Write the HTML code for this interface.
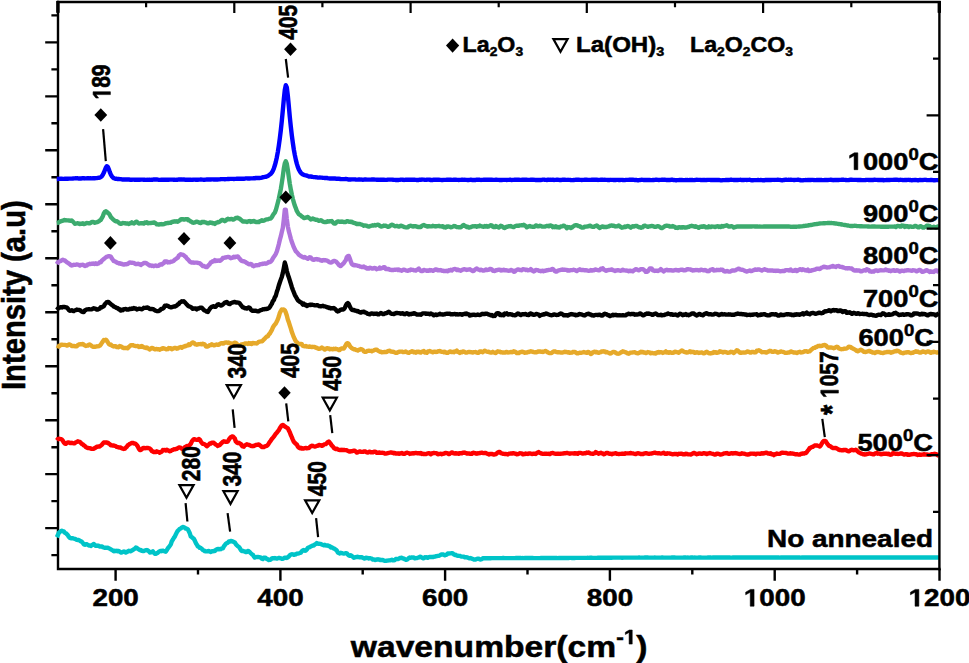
<!DOCTYPE html><html><head><meta charset="utf-8"><style>html,body{margin:0;padding:0;background:#fff;}svg{display:block;}text{font-family:"Liberation Sans",sans-serif;font-weight:bold;fill:#000;stroke:#000;stroke-width:0.5px;}</style></head><body>
<svg width="969" height="663" viewBox="0 0 969 663">
<rect width="969" height="663" fill="#fff"/>
<g stroke="#000" stroke-width="2.4" fill="none">
<path d="M58.0 2.0 V569.0 H939.4" stroke-linecap="square"/>
<path d="M58.0 15.4H51.4M58.0 42.4H45.2M58.0 69.4H51.4M58.0 96.4H45.2M58.0 123.3H51.4M58.0 150.3H45.2M58.0 177.3H51.4M58.0 204.3H45.2M58.0 231.3H51.4M58.0 258.3H45.2M58.0 285.2H51.4M58.0 312.2H45.2M58.0 339.2H51.4M58.0 366.2H45.2M58.0 393.2H51.4M58.0 420.2H45.2M58.0 447.2H51.4M58.0 474.1H45.2M58.0 501.1H51.4M58.0 528.1H45.2M58.0 555.1H51.4M115.6 569.0V580.8M198.0 569.0V574.4M280.4 569.0V580.8M362.7 569.0V574.4M445.1 569.0V580.8M527.5 569.0V574.4M609.9 569.0V580.8M692.3 569.0V574.4M774.7 569.0V580.8M857.1 569.0V574.4M939.5 569.0V580.8" stroke-linecap="butt"/>
</g>
<path d="M56.8 179.02L57.8 178.97L58.8 178.87L59.8 178.79L60.8 178.71L61.8 178.75L62.8 178.85L63.8 178.86L64.8 178.79L65.8 178.70L66.8 178.74L67.8 178.77L68.8 178.65L69.8 178.61L70.8 178.63L71.8 178.59L72.8 178.54L73.8 178.34L74.8 178.33L75.8 178.22L76.8 178.32L77.8 178.31L78.8 178.45L79.8 178.47L80.8 178.53L81.8 178.32L82.8 178.26L83.8 178.25L84.8 178.43L85.8 178.34L86.8 178.30L87.8 178.20L88.8 178.23L89.8 178.32L90.8 178.31L91.8 178.34L92.8 178.30L93.8 178.29L94.8 178.24L95.8 178.14L96.8 178.12L97.8 177.94L98.8 177.78L99.8 177.61L100.8 177.11L101.8 176.32L102.8 174.84L103.8 172.84L104.8 170.31L105.8 167.71L106.8 166.19L107.8 166.79L108.8 169.22L109.8 172.10L110.8 174.54L111.8 176.23L112.8 177.42L113.8 178.15L114.8 178.52L115.8 178.75L116.8 178.80L117.8 179.00L118.8 179.01L119.8 179.10L120.8 179.16L121.8 179.37L122.8 179.56L123.8 179.53L124.8 179.45L125.8 179.46L126.8 179.44L127.8 179.49L128.8 179.45L129.8 179.70L130.8 179.79L131.8 179.78L132.8 179.67L133.8 179.61L134.8 179.75L135.8 179.75L136.8 179.75L137.8 179.67L138.8 179.70L139.8 179.71L140.8 179.61L141.8 179.62L142.8 179.60L143.8 179.77L144.8 179.82L145.8 179.85L146.8 179.82L147.8 179.75L148.8 179.82L149.8 179.78L150.8 179.84L151.8 179.68L152.8 179.70L153.8 179.54L154.8 179.49L155.8 179.44L156.8 179.50L157.8 179.66L158.8 179.84L159.8 179.84L160.8 179.79L161.8 179.64L162.8 179.74L163.8 179.77L164.8 179.74L165.8 179.75L166.8 179.80L167.8 179.74L168.8 179.69L169.8 179.65L170.8 179.65L171.8 179.67L172.8 179.61L173.8 179.75L174.8 179.75L175.8 179.82L176.8 179.70L177.8 179.68L178.8 179.53L179.8 179.49L180.8 179.52L181.8 179.51L182.8 179.65L183.8 179.50L184.8 179.71L185.8 179.59L186.8 179.77L187.8 179.72L188.8 179.67L189.8 179.70L190.8 179.79L191.8 179.90L192.8 179.79L193.8 179.67L194.8 179.60L195.8 179.70L196.8 179.67L197.8 179.73L198.8 179.60L199.8 179.59L200.8 179.50L201.8 179.64L202.8 179.67L203.8 179.82L204.8 179.72L205.8 179.67L206.8 179.56L207.8 179.51L208.8 179.54L209.8 179.52L210.8 179.52L211.8 179.40L212.8 179.35L213.8 179.47L214.8 179.49L215.8 179.45L216.8 179.33L217.8 179.45L218.8 179.40L219.8 179.33L220.8 179.16L221.8 179.11L222.8 179.14L223.8 179.16L224.8 179.26L225.8 179.12L226.8 179.12L227.8 179.05L228.8 179.06L229.8 178.91L230.8 178.83L231.8 178.91L232.8 178.92L233.8 178.99L234.8 178.86L235.8 178.83L236.8 178.74L237.8 178.76L238.8 178.73L239.8 178.72L240.8 178.64L241.8 178.72L242.8 178.74L243.8 178.73L244.8 178.57L245.8 178.39L246.8 178.39L247.8 178.46L248.8 178.51L249.8 178.44L250.8 178.39L251.8 178.41L252.8 178.39L253.8 178.25L254.8 178.24L255.8 178.02L256.8 178.05L257.8 177.90L258.8 177.97L259.8 177.95L260.8 177.92L261.8 177.66L262.8 177.27L263.8 177.07L264.8 176.89L265.8 176.77L266.8 176.47L267.8 176.03L268.8 175.36L269.8 174.61L270.8 173.77L271.8 172.61L272.8 170.87L273.8 168.54L274.8 165.55L275.8 161.89L276.8 157.41L277.8 152.04L278.8 145.77L279.8 138.55L280.8 130.39L281.8 120.91L282.8 110.48L283.8 99.53L284.8 90.01L285.8 85.15L286.8 87.31L287.8 95.45L288.8 106.03L289.8 116.86L290.8 126.47L291.8 135.18L292.8 142.66L293.8 149.39L294.8 154.91L295.8 159.66L296.8 163.63L297.8 166.87L298.8 169.37L299.8 171.19L300.8 172.70L301.8 173.74L302.8 174.38L303.8 174.82L304.8 175.11L305.8 175.35L306.8 175.62L307.8 176.06L308.8 176.46L309.8 176.56L310.8 176.53L311.8 176.73L312.8 176.94L313.8 177.11L314.8 177.13L315.8 177.22L316.8 177.36L317.8 177.50L318.8 177.60L319.8 177.55L320.8 177.63L321.8 177.65L322.8 177.88L323.8 177.83L324.8 177.95L325.8 177.94L326.8 178.01L327.8 178.22L328.8 178.39L329.8 178.52L330.8 178.52L331.8 178.50L332.8 178.41L333.8 178.43L334.8 178.46L335.8 178.71L336.8 178.67L337.8 178.71L338.8 178.74L339.8 178.96L340.8 179.05L341.8 179.10L342.8 179.17L343.8 179.15L344.8 179.16L345.8 178.96L346.8 179.15L347.8 179.28L348.8 179.51L349.8 179.48L350.8 179.45L351.8 179.42L352.8 179.38L353.8 179.39L354.8 179.40L355.8 179.54L356.8 179.62L357.8 179.63L358.8 179.50L359.8 179.43L360.8 179.56L361.8 179.66L362.8 179.72L363.8 179.59L364.8 179.49L365.8 179.49L366.8 179.59L367.8 179.65L368.8 179.65L369.8 179.58L370.8 179.62L371.8 179.53L372.8 179.54L373.8 179.48L374.8 179.66L375.8 179.63L376.8 179.74L377.8 179.79L378.8 179.82L379.8 179.74L380.8 179.65L381.8 179.68L382.8 179.66L383.8 179.68L384.8 179.83L385.8 179.88L386.8 179.84L387.8 179.62L388.8 179.67L389.8 179.60L390.8 179.60L391.8 179.67L392.8 179.69L393.8 179.85L394.8 179.87L395.8 179.96L396.8 179.92L397.8 179.96L398.8 179.93L399.8 179.85L400.8 179.61L401.8 179.63L402.8 179.78L403.8 179.95L404.8 179.88L405.8 179.72L406.8 179.61L407.8 179.71L408.8 179.75L409.8 179.81L410.8 179.81L411.8 179.80L412.8 179.79L413.8 179.78L414.8 179.80L415.8 179.84L416.8 179.96L417.8 180.01L418.8 179.98L419.8 179.73L420.8 179.72L421.8 179.57L422.8 179.60L423.8 179.63L424.8 179.82L425.8 179.91L426.8 179.73L427.8 179.66L428.8 179.62L429.8 179.79L430.8 179.98L431.8 180.04L432.8 179.94L433.8 179.70L434.8 179.68L435.8 179.73L436.8 179.73L437.8 179.74L438.8 179.67L439.8 179.84L440.8 179.91L441.8 180.07L442.8 179.96L443.8 179.92L444.8 179.83L445.8 179.84L446.8 179.78L447.8 179.70L448.8 179.62L449.8 179.70L450.8 179.78L451.8 179.90L452.8 179.92L453.8 179.81L454.8 179.74L455.8 179.68L456.8 179.84L457.8 179.87L458.8 179.93L459.8 179.92L460.8 179.86L461.8 179.72L462.8 179.76L463.8 179.88L464.8 179.81L465.8 179.85L466.8 179.86L467.8 180.10L468.8 179.97L469.8 179.91L470.8 179.73L471.8 179.94L472.8 179.95L473.8 180.15L474.8 179.92L475.8 179.95L476.8 179.71L477.8 179.73L478.8 179.79L479.8 179.82L480.8 179.93L481.8 179.88L482.8 179.90L483.8 179.79L484.8 179.73L485.8 179.80L486.8 179.80L487.8 179.78L488.8 179.76L489.8 179.72L490.8 179.69L491.8 179.71L492.8 179.85L493.8 179.83L494.8 179.83L495.8 179.73L496.8 179.77L497.8 179.83L498.8 179.84L499.8 180.01L500.8 179.90L501.8 179.96L502.8 179.84L503.8 179.84L504.8 179.86L505.8 179.86L506.8 179.96L507.8 179.92L508.8 179.85L509.8 179.80L510.8 179.81L511.8 179.96L512.8 179.90L513.8 179.89L514.8 179.70L515.8 179.81L516.8 179.74L517.8 179.73L518.8 179.68L519.8 179.84L520.8 179.86L521.8 179.79L522.8 179.66L523.8 179.68L524.8 179.79L525.8 179.79L526.8 179.82L527.8 179.83L528.8 179.84L529.8 179.92L530.8 179.81L531.8 179.78L532.8 179.61L533.8 179.82L534.8 179.88L535.8 180.03L536.8 179.90L537.8 179.93L538.8 179.92L539.8 180.06L540.8 179.97L541.8 179.86L542.8 179.65L543.8 179.63L544.8 179.79L545.8 179.92L546.8 179.95L547.8 179.80L548.8 179.72L549.8 179.88L550.8 179.78L551.8 179.85L552.8 179.67L553.8 179.95L554.8 179.83L555.8 179.89L556.8 179.71L557.8 179.71L558.8 179.83L559.8 180.00L560.8 180.04L561.8 179.88L562.8 179.69L563.8 179.69L564.8 179.75L565.8 179.88L566.8 179.90L567.8 179.82L568.8 179.83L569.8 179.83L570.8 180.00L571.8 180.14L572.8 180.14L573.8 179.99L574.8 179.85L575.8 179.82L576.8 179.82L577.8 179.82L578.8 179.79L579.8 179.89L580.8 179.88L581.8 179.98L582.8 179.92L583.8 179.88L584.8 179.79L585.8 179.79L586.8 179.80L587.8 179.89L588.8 179.90L589.8 179.85L590.8 179.83L591.8 179.74L592.8 179.79L593.8 179.77L594.8 179.72L595.8 179.77L596.8 179.80L597.8 179.94L598.8 179.90L599.8 179.86L600.8 179.80L601.8 179.82L602.8 179.80L603.8 179.88L604.8 179.81L605.8 179.87L606.8 179.87L607.8 179.95L608.8 179.90L609.8 179.93L610.8 179.82L611.8 179.89L612.8 179.87L613.8 180.01L614.8 180.00L615.8 179.94L616.8 179.90L617.8 179.92L618.8 180.00L619.8 180.03L620.8 179.88L621.8 179.88L622.8 179.95L623.8 180.13L624.8 180.11L625.8 179.92L626.8 179.91L627.8 179.89L628.8 179.82L629.8 179.78L630.8 179.68L631.8 179.77L632.8 179.70L633.8 179.90L634.8 179.96L635.8 180.03L636.8 180.06L637.8 180.20L638.8 180.18L639.8 180.03L640.8 179.83L641.8 179.79L642.8 179.84L643.8 179.96L644.8 180.01L645.8 180.05L646.8 179.97L647.8 179.96L648.8 179.94L649.8 180.04L650.8 180.12L651.8 180.10L652.8 180.03L653.8 179.98L654.8 179.88L655.8 179.79L656.8 179.80L657.8 179.87L658.8 180.01L659.8 179.85L660.8 179.83L661.8 179.76L662.8 179.82L663.8 179.69L664.8 179.71L665.8 179.83L666.8 180.02L667.8 180.00L668.8 179.94L669.8 179.97L670.8 179.81L671.8 179.80L672.8 179.79L673.8 180.04L674.8 180.17L675.8 180.21L676.8 180.18L677.8 180.08L678.8 180.06L679.8 180.00L680.8 179.97L681.8 179.98L682.8 180.16L683.8 180.15L684.8 180.08L685.8 179.96L686.8 180.07L687.8 180.07L688.8 180.16L689.8 179.99L690.8 179.98L691.8 179.87L692.8 179.99L693.8 180.08L694.8 179.99L695.8 179.86L696.8 179.81L697.8 179.87L698.8 179.83L699.8 179.88L700.8 179.96L701.8 180.11L702.8 180.00L703.8 180.04L704.8 179.99L705.8 180.10L706.8 179.96L707.8 179.92L708.8 179.85L709.8 179.87L710.8 179.98L711.8 179.98L712.8 179.97L713.8 179.93L714.8 179.88L715.8 180.01L716.8 179.96L717.8 179.96L718.8 179.98L719.8 180.18L720.8 180.36L721.8 180.28L722.8 180.13L723.8 180.10L724.8 180.09L725.8 180.00L726.8 179.90L727.8 179.94L728.8 179.95L729.8 179.83L730.8 179.69L731.8 179.80L732.8 179.86L733.8 179.96L734.8 179.92L735.8 180.02L736.8 180.01L737.8 180.03L738.8 179.92L739.8 179.92L740.8 179.81L741.8 179.96L742.8 179.98L743.8 180.00L744.8 179.90L745.8 179.88L746.8 179.98L747.8 179.90L748.8 179.84L749.8 179.76L750.8 180.06L751.8 180.20L752.8 180.22L753.8 180.09L754.8 180.17L755.8 180.16L756.8 180.08L757.8 180.02L758.8 180.07L759.8 180.15L760.8 180.03L761.8 180.13L762.8 180.20L763.8 180.28L764.8 180.19L765.8 179.92L766.8 179.93L767.8 179.87L768.8 180.04L769.8 180.05L770.8 180.04L771.8 179.88L772.8 179.86L773.8 179.83L774.8 179.93L775.8 179.86L776.8 179.89L777.8 179.75L778.8 179.88L779.8 179.92L780.8 180.17L781.8 180.22L782.8 180.21L783.8 180.00L784.8 179.79L785.8 179.70L786.8 179.80L787.8 179.87L788.8 179.81L789.8 179.87L790.8 179.76L791.8 179.92L792.8 179.89L793.8 179.98L794.8 179.95L795.8 179.92L796.8 179.90L797.8 179.78L798.8 179.82L799.8 180.00L800.8 180.26L801.8 180.35L802.8 180.27L803.8 180.08L804.8 180.09L805.8 180.04L806.8 180.08L807.8 179.96L808.8 179.97L809.8 179.94L810.8 179.96L811.8 179.87L812.8 179.88L813.8 180.05L814.8 180.12L815.8 180.13L816.8 180.00L817.8 180.06L818.8 180.00L819.8 179.95L820.8 179.96L821.8 180.06L822.8 180.08L823.8 180.13L824.8 180.06L825.8 180.06L826.8 179.91L827.8 180.07L828.8 179.92L829.8 179.91L830.8 179.77L831.8 179.95L832.8 180.04L833.8 180.18L834.8 180.02L835.8 180.03L836.8 179.91L837.8 179.98L838.8 179.96L839.8 179.92L840.8 179.82L841.8 179.75L842.8 179.71L843.8 179.81L844.8 179.87L845.8 179.99L846.8 180.15L847.8 180.11L848.8 179.98L849.8 179.81L850.8 179.76L851.8 179.79L852.8 179.87L853.8 179.89L854.8 179.84L855.8 179.86L856.8 179.89L857.8 180.06L858.8 180.02L859.8 180.07L860.8 180.05L861.8 180.13L862.8 180.12L863.8 180.14L864.8 180.08L865.8 179.95L866.8 179.91L867.8 179.86L868.8 179.98L869.8 179.89L870.8 180.03L871.8 180.02L872.8 180.03L873.8 179.79L874.8 179.77L875.8 179.85L876.8 179.92L877.8 179.94L878.8 179.91L879.8 180.00L880.8 179.94L881.8 179.98L882.8 180.01L883.8 180.25L884.8 180.18L885.8 180.07L886.8 179.83L887.8 179.96L888.8 179.91L889.8 179.94L890.8 179.88L891.8 179.89L892.8 179.86L893.8 179.82L894.8 179.74L895.8 179.71L896.8 179.71L897.8 179.87L898.8 179.96L899.8 179.87L900.8 179.82L901.8 179.89L902.8 180.06L903.8 180.09L904.8 179.97L905.8 179.97L906.8 179.94L907.8 179.92L908.8 179.82L909.8 179.96L910.8 180.06L911.8 180.20L912.8 180.06L913.8 180.11L914.8 179.99L915.8 180.01L916.8 180.12L917.8 180.22L918.8 180.19L919.8 180.01L920.8 179.98L921.8 180.10L922.8 180.07L923.8 179.93L924.8 179.82L925.8 179.85L926.8 179.99L927.8 180.10L928.8 180.12L929.8 180.17L930.8 180.00L931.8 180.04L932.8 180.13L933.8 180.27L934.8 180.22L935.8 180.08L936.8 180.16L937.8 180.07L938.8 179.99" fill="none" stroke="#0000ff" stroke-width="4.4" stroke-linejoin="round" stroke-linecap="butt"/>
<path d="M56.8 223.03L57.8 222.84L58.8 222.29L59.8 221.84L60.8 221.15L61.8 221.04L62.8 220.65L63.8 220.17L64.8 220.01L65.8 220.29L66.8 220.37L67.8 220.37L68.8 220.43L69.8 220.57L70.8 220.92L71.8 220.57L72.8 221.54L73.8 222.49L74.8 223.76L75.8 223.59L76.8 223.44L77.8 223.21L78.8 223.64L79.8 224.07L80.8 223.59L81.8 223.87L82.8 223.29L83.8 224.14L84.8 223.77L85.8 223.48L86.8 223.01L87.8 223.10L88.8 223.24L89.8 223.22L90.8 222.70L91.8 221.87L92.8 221.87L93.8 222.14L94.8 222.76L95.8 222.34L96.8 222.30L97.8 221.91L98.8 221.35L99.8 220.37L100.8 219.90L101.8 218.05L102.8 216.37L103.8 213.54L104.8 211.94L105.8 211.29L106.8 211.85L107.8 212.84L108.8 213.52L109.8 215.01L110.8 216.93L111.8 218.06L112.8 219.07L113.8 219.98L114.8 220.71L115.8 221.19L116.8 221.20L117.8 221.79L118.8 222.72L119.8 223.62L120.8 223.77L121.8 223.53L122.8 223.06L123.8 223.13L124.8 223.19L125.8 223.54L126.8 223.49L127.8 223.54L128.8 223.93L129.8 223.20L130.8 223.22L131.8 222.32L132.8 223.18L133.8 223.46L134.8 222.90L135.8 221.99L136.8 221.74L137.8 222.79L138.8 223.49L139.8 223.34L140.8 223.27L141.8 223.28L142.8 223.31L143.8 223.53L144.8 222.58L145.8 222.84L146.8 222.17L147.8 223.27L148.8 223.01L149.8 223.10L150.8 222.96L151.8 222.81L152.8 222.89L153.8 222.35L154.8 222.76L155.8 223.33L156.8 224.29L157.8 224.33L158.8 224.57L159.8 224.26L160.8 224.27L161.8 224.06L162.8 224.33L163.8 224.15L164.8 223.76L165.8 223.22L166.8 223.22L167.8 222.85L168.8 223.07L169.8 222.67L170.8 222.83L171.8 221.89L172.8 221.81L173.8 221.46L174.8 221.30L175.8 221.58L176.8 221.27L177.8 221.68L178.8 221.02L179.8 220.39L180.8 219.44L181.8 219.11L182.8 219.27L183.8 219.47L184.8 219.44L185.8 219.15L186.8 219.48L187.8 219.28L188.8 220.46L189.8 220.69L190.8 221.58L191.8 221.86L192.8 222.65L193.8 222.77L194.8 222.44L195.8 221.98L196.8 221.70L197.8 221.84L198.8 222.58L199.8 222.74L200.8 223.11L201.8 221.97L202.8 222.29L203.8 221.87L204.8 222.26L205.8 222.36L206.8 223.11L207.8 223.27L208.8 223.23L209.8 222.43L210.8 222.68L211.8 222.66L212.8 223.35L213.8 223.21L214.8 223.90L215.8 222.91L216.8 222.64L217.8 222.06L218.8 222.23L219.8 221.64L220.8 220.82L221.8 220.05L222.8 219.96L223.8 220.54L224.8 221.17L225.8 220.62L226.8 219.39L227.8 218.75L228.8 219.34L229.8 219.25L230.8 219.06L231.8 218.95L232.8 219.44L233.8 219.50L234.8 218.81L235.8 218.01L236.8 217.94L237.8 217.64L238.8 218.49L239.8 218.63L240.8 219.73L241.8 220.50L242.8 221.59L243.8 221.52L244.8 221.52L245.8 221.69L246.8 221.98L247.8 221.52L248.8 221.23L249.8 221.06L250.8 221.96L251.8 221.26L252.8 221.46L253.8 220.89L254.8 221.59L255.8 221.95L256.8 222.04L257.8 221.92L258.8 222.10L259.8 221.14L260.8 221.03L261.8 220.23L262.8 220.77L263.8 220.58L264.8 220.21L265.8 219.61L266.8 219.41L267.8 219.41L268.8 218.90L269.8 218.68L270.8 218.52L271.8 217.23L272.8 215.36L273.8 213.82L274.8 212.61L275.8 210.21L276.8 206.49L277.8 202.72L278.8 198.67L279.8 194.02L280.8 189.16L281.8 183.01L282.8 176.27L283.8 168.78L284.8 163.45L285.8 161.25L286.8 163.87L287.8 169.76L288.8 176.96L289.8 183.83L290.8 189.53L291.8 194.55L292.8 198.74L293.8 202.29L294.8 205.72L295.8 208.11L296.8 210.92L297.8 212.55L298.8 214.18L299.8 214.78L300.8 215.50L301.8 216.53L302.8 217.01L303.8 218.02L304.8 218.01L305.8 217.71L306.8 217.25L307.8 216.96L308.8 217.81L309.8 218.49L310.8 219.44L311.8 219.07L312.8 218.51L313.8 218.92L314.8 219.51L315.8 219.80L316.8 219.60L317.8 220.35L318.8 220.84L319.8 220.61L320.8 220.20L321.8 220.74L322.8 221.45L323.8 221.86L324.8 222.16L325.8 221.97L326.8 221.80L327.8 221.15L328.8 221.65L329.8 221.10L330.8 221.25L331.8 221.03L332.8 222.25L333.8 223.36L334.8 223.65L335.8 223.18L336.8 221.96L337.8 221.39L338.8 221.45L339.8 221.82L340.8 221.82L341.8 221.55L342.8 221.58L343.8 222.11L344.8 222.07L345.8 222.01L346.8 221.27L347.8 221.12L348.8 221.77L349.8 221.68L350.8 222.03L351.8 221.74L352.8 222.60L353.8 222.77L354.8 223.03L355.8 223.51L356.8 224.10L357.8 223.80L358.8 223.99L359.8 223.88L360.8 224.39L361.8 224.58L362.8 225.15L363.8 225.69L364.8 225.51L365.8 225.66L366.8 225.80L367.8 226.40L368.8 226.61L369.8 226.22L370.8 225.83L371.8 225.68L372.8 225.32L373.8 225.49L374.8 225.08L375.8 225.44L376.8 224.83L377.8 224.75L378.8 224.89L379.8 225.80L380.8 226.46L381.8 226.46L382.8 226.13L383.8 225.55L384.8 225.73L385.8 225.74L386.8 226.24L387.8 226.70L388.8 226.79L389.8 226.11L390.8 225.26L391.8 224.80L392.8 224.91L393.8 225.64L394.8 226.21L395.8 226.12L396.8 225.91L397.8 226.26L398.8 226.65L399.8 226.22L400.8 225.69L401.8 225.91L402.8 226.35L403.8 226.86L404.8 227.18L405.8 227.36L406.8 227.43L407.8 227.25L408.8 226.35L409.8 225.86L410.8 225.75L411.8 226.13L412.8 226.48L413.8 226.26L414.8 226.09L415.8 226.27L416.8 226.61L417.8 227.00L418.8 226.83L419.8 226.96L420.8 227.01L421.8 225.88L422.8 225.31L423.8 225.05L424.8 225.54L425.8 225.84L426.8 226.39L427.8 226.56L428.8 226.12L429.8 226.40L430.8 226.41L431.8 226.38L432.8 225.79L433.8 226.08L434.8 226.26L435.8 226.45L436.8 226.14L437.8 226.07L438.8 225.87L439.8 226.29L440.8 226.39L441.8 226.45L442.8 226.16L443.8 227.31L444.8 226.97L445.8 227.46L446.8 226.51L447.8 226.70L448.8 226.48L449.8 226.80L450.8 227.27L451.8 227.14L452.8 226.64L453.8 226.04L454.8 226.11L455.8 226.50L456.8 227.15L457.8 227.12L458.8 227.28L459.8 227.32L460.8 227.24L461.8 226.39L462.8 225.50L463.8 224.96L464.8 225.99L465.8 226.10L466.8 226.99L467.8 226.66L468.8 227.51L469.8 227.44L470.8 227.21L471.8 226.57L472.8 226.27L473.8 226.36L474.8 226.26L475.8 226.22L476.8 226.70L477.8 226.31L478.8 226.41L479.8 225.57L480.8 226.20L481.8 226.40L482.8 226.68L483.8 226.88L484.8 226.07L485.8 226.46L486.8 226.00L487.8 226.74L488.8 226.43L489.8 225.77L490.8 225.32L491.8 225.33L492.8 226.71L493.8 227.06L494.8 227.07L495.8 226.09L496.8 226.47L497.8 226.99L498.8 227.47L499.8 226.92L500.8 225.78L501.8 226.07L502.8 227.04L503.8 227.82L504.8 227.95L505.8 227.23L506.8 226.67L507.8 226.70L508.8 226.11L509.8 226.37L510.8 226.02L511.8 226.72L512.8 226.93L513.8 226.97L514.8 226.42L515.8 225.86L516.8 225.75L517.8 225.77L518.8 225.77L519.8 225.33L520.8 225.40L521.8 225.22L522.8 225.20L523.8 224.82L524.8 225.50L525.8 226.08L526.8 227.30L527.8 226.74L528.8 226.38L529.8 226.02L530.8 226.45L531.8 226.57L532.8 226.83L533.8 226.79L534.8 226.52L535.8 225.51L536.8 225.74L537.8 226.23L538.8 226.21L539.8 225.78L540.8 225.85L541.8 226.50L542.8 226.62L543.8 226.65L544.8 226.65L545.8 226.27L546.8 225.96L547.8 225.91L548.8 226.32L549.8 225.71L550.8 225.48L551.8 225.92L552.8 227.17L553.8 226.53L554.8 227.15L555.8 226.25L556.8 227.30L557.8 226.85L558.8 227.55L559.8 227.28L560.8 226.49L561.8 226.37L562.8 226.08L563.8 225.63L564.8 226.37L565.8 226.84L566.8 228.29L567.8 227.05L568.8 227.30L569.8 227.23L570.8 228.05L571.8 227.56L572.8 226.63L573.8 226.05L574.8 225.33L575.8 225.16L576.8 225.26L577.8 225.66L578.8 226.17L579.8 226.11L580.8 227.08L581.8 227.57L582.8 227.59L583.8 227.36L584.8 226.67L585.8 226.57L586.8 226.47L587.8 226.32L588.8 226.34L589.8 225.60L590.8 226.05L591.8 226.69L592.8 226.88L593.8 226.92L594.8 226.08L595.8 225.95L596.8 225.46L597.8 226.25L598.8 227.42L599.8 227.99L600.8 227.27L601.8 226.72L602.8 226.45L603.8 226.95L604.8 226.82L605.8 227.02L606.8 226.96L607.8 226.67L608.8 226.44L609.8 225.67L610.8 225.72L611.8 225.38L612.8 225.90L613.8 225.73L614.8 226.24L615.8 226.44L616.8 226.29L617.8 225.99L618.8 225.52L619.8 226.24L620.8 227.08L621.8 227.68L622.8 227.32L623.8 227.24L624.8 226.45L625.8 227.07L626.8 226.36L627.8 225.94L628.8 226.33L629.8 227.07L630.8 227.65L631.8 226.83L632.8 226.23L633.8 226.61L634.8 226.06L635.8 225.90L636.8 226.03L637.8 226.59L638.8 227.22L639.8 227.09L640.8 227.80L641.8 227.16L642.8 227.22L643.8 225.80L644.8 225.62L645.8 225.98L646.8 226.31L647.8 226.90L648.8 226.44L649.8 226.40L650.8 226.11L651.8 225.96L652.8 226.14L653.8 226.51L654.8 226.90L655.8 226.87L656.8 226.32L657.8 226.19L658.8 226.35L659.8 226.99L660.8 227.78L661.8 228.10L662.8 227.74L663.8 226.80L664.8 226.23L665.8 225.94L666.8 225.66L667.8 225.82L668.8 225.97L669.8 226.56L670.8 226.55L671.8 226.63L672.8 225.97L673.8 226.65L674.8 226.89L675.8 227.89L676.8 227.60L677.8 227.93L678.8 227.25L679.8 227.22L680.8 227.62L681.8 227.30L682.8 227.45L683.8 227.11L684.8 227.66L685.8 227.52L686.8 227.38L687.8 227.01L688.8 226.89L689.8 226.17L690.8 226.16L691.8 225.81L692.8 226.06L693.8 226.34L694.8 226.70L695.8 226.26L696.8 226.88L697.8 227.12L698.8 227.85L699.8 227.05L700.8 226.63L701.8 226.57L702.8 226.83L703.8 226.28L704.8 226.35L705.8 227.20L706.8 227.14L707.8 227.23L708.8 226.35L709.8 226.95L710.8 227.07L711.8 226.54L712.8 226.63L713.8 226.66L714.8 227.00L715.8 226.80L716.8 226.34L717.8 226.25L718.8 226.92L719.8 226.57L720.8 227.02L721.8 226.06L722.8 226.60L723.8 226.27L724.8 225.81L725.8 225.58L726.8 225.25L727.8 225.98L728.8 226.51L729.8 226.49L730.8 226.28L731.8 226.24L732.8 226.67L733.8 227.56L734.8 227.17L735.8 226.83L736.8 226.48L737.8 226.51L738.8 226.57L739.8 226.57L740.8 226.53L741.8 226.49L742.8 226.48L743.8 226.54L744.8 226.54L745.8 226.53L746.8 226.44L747.8 226.47L748.8 226.53L749.8 226.54L750.8 226.49L751.8 226.47L752.8 226.42L753.8 226.40L754.8 226.43L755.8 226.47L756.8 226.53L757.8 226.54L758.8 226.58L759.8 226.57L760.8 226.61L761.8 226.61L762.8 226.60L763.8 226.55L764.8 226.54L765.8 226.53L766.8 226.51L767.8 226.49L768.8 226.45L769.8 226.45L770.8 226.44L771.8 226.50L772.8 226.45L773.8 226.45L774.8 226.46L775.8 226.52L776.8 226.50L777.8 226.52L778.8 226.48L779.8 226.51L780.8 226.53L781.8 226.54L782.8 226.53L783.8 226.51L784.8 226.52L785.8 226.51L786.8 226.47L787.8 226.51L788.8 226.48L789.8 226.61L790.8 226.73L791.8 226.85L792.8 226.82L793.8 226.78L794.8 226.77L795.8 226.71L796.8 226.68L797.8 226.61L798.8 226.53L799.8 226.45L800.8 226.39L801.8 226.32L802.8 226.18L803.8 226.00L804.8 225.83L805.8 225.73L806.8 225.61L807.8 225.47L808.8 225.29L809.8 225.14L810.8 224.98L811.8 224.83L812.8 224.59L813.8 224.41L814.8 224.22L815.8 224.16L816.8 224.01L817.8 223.86L818.8 223.63L819.8 223.50L820.8 223.42L821.8 223.33L822.8 223.31L823.8 223.22L824.8 223.20L825.8 223.10L826.8 223.08L827.8 222.98L828.8 222.98L829.8 222.98L830.8 223.07L831.8 223.07L832.8 223.18L833.8 223.28L834.8 223.44L835.8 223.53L836.8 223.67L837.8 223.85L838.8 223.97L839.8 224.10L840.8 224.27L841.8 224.48L842.8 224.67L843.8 224.81L844.8 224.95L845.8 225.12L846.8 225.34L847.8 225.49L848.8 225.69L849.8 225.82L850.8 225.98L851.8 226.05L852.8 225.98L853.8 225.90L854.8 225.80L855.8 225.86L856.8 225.99L857.8 226.09L858.8 226.17L859.8 226.18L860.8 226.26L861.8 226.26L862.8 226.35L863.8 226.36L864.8 226.40L865.8 226.40L866.8 226.41L867.8 226.47L868.8 226.55L869.8 226.61L870.8 226.59L871.8 226.56L872.8 226.52L873.8 226.57L874.8 226.53L875.8 226.61L876.8 226.58L877.8 226.62L878.8 226.60L879.8 226.65L880.8 226.69L881.8 226.71L882.8 226.68L883.8 226.71L884.8 226.71L885.8 226.70L886.8 226.71L887.8 226.67L888.8 226.68L889.8 226.60L890.8 226.58L891.8 226.61L892.8 226.59L893.8 226.62L894.8 226.51L895.8 227.04L896.8 226.09L897.8 225.94L898.8 226.06L899.8 226.54L900.8 226.60L901.8 225.59L902.8 226.07L903.8 225.82L904.8 226.90L905.8 226.06L906.8 226.51L907.8 226.14L908.8 227.03L909.8 226.49L910.8 226.36L911.8 226.84L912.8 226.87L913.8 226.84L914.8 226.00L915.8 225.93L916.8 226.57L917.8 227.23L918.8 227.34L919.8 226.37L920.8 226.18L921.8 226.78L922.8 227.63L923.8 227.63L924.8 226.97L925.8 226.64L926.8 225.79L927.8 225.61L928.8 225.99L929.8 226.23L930.8 227.46L931.8 227.16L932.8 227.17L933.8 226.68L934.8 227.25L935.8 227.63L936.8 226.95L937.8 226.48L938.8 226.44" fill="none" stroke="#3cab6e" stroke-width="4.4" stroke-linejoin="round" stroke-linecap="butt"/>
<path d="M56.8 264.18L57.8 262.50L58.8 261.66L59.8 261.37L60.8 260.91L61.8 260.20L62.8 259.77L63.8 260.22L64.8 260.38L65.8 261.28L66.8 262.21L67.8 262.68L68.8 263.42L69.8 264.15L70.8 265.09L71.8 265.49L72.8 265.14L73.8 264.78L74.8 264.85L75.8 264.77L76.8 264.44L77.8 264.57L78.8 264.79L79.8 265.57L80.8 264.89L81.8 264.89L82.8 264.80L83.8 265.32L84.8 266.00L85.8 265.48L86.8 265.44L87.8 264.34L88.8 264.21L89.8 263.79L90.8 263.99L91.8 263.65L92.8 263.90L93.8 263.48L94.8 263.97L95.8 263.27L96.8 263.92L97.8 263.48L98.8 263.46L99.8 262.24L100.8 262.14L101.8 260.67L102.8 259.78L103.8 258.91L104.8 258.16L105.8 257.33L106.8 256.75L107.8 256.45L108.8 256.26L109.8 256.30L110.8 256.65L111.8 258.42L112.8 259.74L113.8 261.04L114.8 261.38L115.8 261.78L116.8 262.55L117.8 262.88L118.8 263.46L119.8 263.16L120.8 263.71L121.8 263.64L122.8 264.39L123.8 264.63L124.8 264.24L125.8 264.37L126.8 263.99L127.8 263.96L128.8 263.06L129.8 262.52L130.8 262.69L131.8 262.62L132.8 262.85L133.8 262.93L134.8 263.55L135.8 264.17L136.8 264.04L137.8 263.74L138.8 263.95L139.8 264.37L140.8 264.99L141.8 264.12L142.8 263.75L143.8 263.05L144.8 262.97L145.8 262.92L146.8 263.45L147.8 264.17L148.8 264.90L149.8 265.57L150.8 265.39L151.8 265.97L152.8 265.63L153.8 266.20L154.8 265.59L155.8 265.57L156.8 265.96L157.8 265.90L158.8 265.55L159.8 264.59L160.8 264.31L161.8 264.57L162.8 263.69L163.8 263.04L164.8 261.36L165.8 261.41L166.8 261.38L167.8 262.44L168.8 262.18L169.8 262.24L170.8 261.76L171.8 261.59L172.8 261.20L173.8 260.68L174.8 259.69L175.8 259.10L176.8 258.30L177.8 257.67L178.8 255.67L179.8 254.82L180.8 254.22L181.8 254.67L182.8 254.80L183.8 255.20L184.8 256.20L185.8 256.90L186.8 258.39L187.8 259.28L188.8 260.38L189.8 261.59L190.8 262.26L191.8 262.63L192.8 262.44L193.8 262.71L194.8 262.60L195.8 262.64L196.8 262.62L197.8 262.86L198.8 263.14L199.8 263.10L200.8 264.24L201.8 265.16L202.8 266.03L203.8 265.85L204.8 266.64L205.8 266.96L206.8 267.13L207.8 266.12L208.8 264.95L209.8 263.94L210.8 262.40L211.8 262.16L212.8 261.16L213.8 261.29L214.8 260.11L215.8 260.99L216.8 260.57L217.8 260.83L218.8 260.42L219.8 260.85L220.8 260.26L221.8 259.42L222.8 258.01L223.8 257.93L224.8 257.54L225.8 257.54L226.8 257.09L227.8 257.00L228.8 256.93L229.8 257.44L230.8 258.18L231.8 257.81L232.8 257.53L233.8 256.67L234.8 257.28L235.8 256.78L236.8 256.76L237.8 256.43L238.8 257.72L239.8 258.81L240.8 260.14L241.8 260.85L242.8 261.24L243.8 261.21L244.8 261.70L245.8 262.26L246.8 263.10L247.8 263.57L248.8 264.23L249.8 264.24L250.8 263.99L251.8 264.53L252.8 265.83L253.8 266.24L254.8 265.63L255.8 265.15L256.8 265.34L257.8 265.12L258.8 265.10L259.8 264.46L260.8 264.15L261.8 263.99L262.8 263.76L263.8 263.78L264.8 263.41L265.8 263.74L266.8 263.40L267.8 262.88L268.8 261.88L269.8 262.03L270.8 261.48L271.8 260.38L272.8 258.50L273.8 256.93L274.8 255.55L275.8 253.90L276.8 251.50L277.8 248.20L278.8 244.30L279.8 239.90L280.8 236.38L281.8 232.12L282.8 227.91L283.8 219.69L284.8 209.67L285.8 209.69L286.8 218.93L287.8 226.35L288.8 231.11L289.8 234.72L290.8 238.59L291.8 241.87L292.8 244.49L293.8 247.17L294.8 249.27L295.8 251.31L296.8 252.12L297.8 253.30L298.8 254.68L299.8 255.34L300.8 256.13L301.8 256.55L302.8 257.26L303.8 257.57L304.8 257.08L305.8 257.79L306.8 258.20L307.8 258.78L308.8 257.83L309.8 257.21L310.8 257.61L311.8 258.97L312.8 259.60L313.8 259.88L314.8 259.26L315.8 259.28L316.8 259.05L317.8 259.63L318.8 259.37L319.8 259.92L320.8 260.45L321.8 260.79L322.8 260.20L323.8 260.06L324.8 260.42L325.8 260.25L326.8 260.58L327.8 261.02L328.8 261.83L329.8 262.41L330.8 262.48L331.8 262.33L332.8 261.52L333.8 261.02L334.8 261.02L335.8 261.42L336.8 262.38L337.8 263.48L338.8 264.82L339.8 265.81L340.8 266.10L341.8 265.06L342.8 264.00L343.8 263.11L344.8 261.55L345.8 260.21L346.8 257.27L347.8 256.12L348.8 255.94L349.8 258.62L350.8 261.42L351.8 264.09L352.8 264.86L353.8 265.22L354.8 265.02L355.8 265.41L356.8 265.38L357.8 265.88L358.8 265.83L359.8 266.50L360.8 266.64L361.8 267.15L362.8 266.89L363.8 266.52L364.8 267.51L365.8 267.49L366.8 268.60L367.8 268.21L368.8 268.59L369.8 267.67L370.8 267.82L371.8 268.55L372.8 268.63L373.8 268.16L374.8 267.93L375.8 268.37L376.8 269.17L377.8 268.61L378.8 268.68L379.8 267.55L380.8 268.48L381.8 268.08L382.8 267.80L383.8 267.11L384.8 267.42L385.8 268.97L386.8 269.02L387.8 269.20L388.8 268.89L389.8 269.71L390.8 269.84L391.8 270.14L392.8 269.91L393.8 269.96L394.8 269.75L395.8 269.69L396.8 269.56L397.8 270.03L398.8 269.59L399.8 270.34L400.8 270.26L401.8 270.71L402.8 270.04L403.8 269.63L404.8 269.84L405.8 270.37L406.8 270.55L407.8 270.74L408.8 270.29L409.8 270.27L410.8 269.39L411.8 269.85L412.8 269.83L413.8 270.23L414.8 270.37L415.8 270.57L416.8 269.73L417.8 269.35L418.8 268.60L419.8 269.96L420.8 270.81L421.8 271.14L422.8 270.80L423.8 269.85L424.8 270.16L425.8 270.36L426.8 270.90L427.8 270.43L428.8 270.76L429.8 269.99L430.8 270.43L431.8 270.29L432.8 270.87L433.8 270.45L434.8 269.80L435.8 269.40L436.8 269.71L437.8 270.35L438.8 270.07L439.8 270.25L440.8 270.07L441.8 270.71L442.8 270.71L443.8 271.03L444.8 271.01L445.8 271.15L446.8 270.82L447.8 271.27L448.8 270.32L449.8 270.57L450.8 269.85L451.8 270.42L452.8 269.64L453.8 269.08L454.8 269.05L455.8 269.15L456.8 269.97L457.8 269.59L458.8 270.33L459.8 270.26L460.8 270.68L461.8 269.94L462.8 269.57L463.8 269.26L464.8 269.32L465.8 269.60L466.8 269.93L467.8 269.63L468.8 269.54L469.8 269.29L470.8 269.84L471.8 270.58L472.8 271.11L473.8 270.95L474.8 269.73L475.8 269.02L476.8 268.54L477.8 269.36L478.8 269.59L479.8 270.20L480.8 269.73L481.8 270.03L482.8 270.50L483.8 270.48L484.8 270.33L485.8 269.56L486.8 270.10L487.8 269.86L488.8 269.75L489.8 268.96L490.8 268.83L491.8 269.39L492.8 270.77L493.8 270.91L494.8 271.08L495.8 270.27L496.8 270.23L497.8 269.81L498.8 269.64L499.8 269.78L500.8 270.55L501.8 269.97L502.8 270.34L503.8 269.78L504.8 270.24L505.8 270.16L506.8 270.35L507.8 270.61L508.8 270.70L509.8 270.64L510.8 269.88L511.8 270.25L512.8 270.80L513.8 271.85L514.8 271.69L515.8 270.40L516.8 270.02L517.8 269.38L518.8 269.67L519.8 270.05L520.8 270.05L521.8 270.21L522.8 269.21L523.8 269.43L524.8 269.51L525.8 269.93L526.8 269.73L527.8 270.36L528.8 270.18L529.8 270.07L530.8 269.13L531.8 269.97L532.8 271.07L533.8 271.46L534.8 270.80L535.8 269.92L536.8 270.17L537.8 270.10L538.8 270.76L539.8 270.88L540.8 271.22L541.8 270.94L542.8 270.71L543.8 271.23L544.8 270.64L545.8 270.79L546.8 270.11L547.8 270.21L548.8 269.84L549.8 269.89L550.8 269.82L551.8 269.22L552.8 268.97L553.8 269.82L554.8 271.06L555.8 271.62L556.8 271.52L557.8 270.66L558.8 270.41L559.8 270.09L560.8 269.89L561.8 269.58L562.8 269.51L563.8 269.78L564.8 269.75L565.8 269.85L566.8 269.87L567.8 270.60L568.8 270.46L569.8 270.45L570.8 270.14L571.8 270.08L572.8 269.95L573.8 269.77L574.8 270.09L575.8 270.55L576.8 271.13L577.8 270.28L578.8 269.92L579.8 269.33L580.8 269.98L581.8 269.96L582.8 269.92L583.8 270.14L584.8 270.36L585.8 270.13L586.8 270.32L587.8 270.60L588.8 270.81L589.8 270.64L590.8 270.03L591.8 270.62L592.8 270.26L593.8 270.24L594.8 269.71L595.8 269.52L596.8 269.87L597.8 270.06L598.8 270.34L599.8 270.08L600.8 268.74L601.8 268.76L602.8 268.30L603.8 269.66L604.8 270.02L605.8 270.77L606.8 270.55L607.8 270.10L608.8 269.95L609.8 269.90L610.8 269.76L611.8 269.48L612.8 270.09L613.8 270.29L614.8 270.94L615.8 270.44L616.8 270.47L617.8 270.08L618.8 270.33L619.8 270.59L620.8 270.73L621.8 270.34L622.8 269.78L623.8 270.27L624.8 270.41L625.8 270.58L626.8 270.51L627.8 270.99L628.8 271.27L629.8 270.63L630.8 271.07L631.8 271.02L632.8 271.35L633.8 270.47L634.8 269.84L635.8 269.18L636.8 269.38L637.8 270.01L638.8 270.39L639.8 269.84L640.8 269.21L641.8 269.17L642.8 269.08L643.8 269.89L644.8 270.41L645.8 271.90L646.8 271.89L647.8 271.28L648.8 270.00L649.8 268.49L650.8 268.49L651.8 268.73L652.8 270.27L653.8 270.69L654.8 270.95L655.8 270.69L656.8 270.71L657.8 271.01L658.8 270.56L659.8 270.17L660.8 269.19L661.8 270.12L662.8 270.73L663.8 271.48L664.8 270.50L665.8 270.11L666.8 269.76L667.8 270.21L668.8 270.09L669.8 270.35L670.8 270.18L671.8 270.55L672.8 270.45L673.8 270.49L674.8 270.15L675.8 269.91L676.8 270.30L677.8 270.25L678.8 270.50L679.8 270.08L680.8 269.66L681.8 269.87L682.8 269.64L683.8 270.40L684.8 270.23L685.8 270.02L686.8 269.46L687.8 269.13L688.8 269.42L689.8 269.34L690.8 269.78L691.8 269.98L692.8 270.53L693.8 270.13L694.8 270.32L695.8 269.92L696.8 270.06L697.8 270.16L698.8 270.44L699.8 270.29L700.8 269.71L701.8 269.75L702.8 270.03L703.8 270.32L704.8 270.00L705.8 270.07L706.8 271.03L707.8 271.19L708.8 271.12L709.8 270.39L710.8 269.60L711.8 269.53L712.8 269.15L713.8 270.53L714.8 270.40L715.8 270.37L716.8 269.82L717.8 269.97L718.8 270.04L719.8 270.10L720.8 269.57L721.8 269.69L722.8 269.98L723.8 271.14L724.8 271.47L725.8 271.29L726.8 271.02L727.8 271.13L728.8 271.62L729.8 271.58L730.8 271.19L731.8 270.70L732.8 270.39L733.8 270.54L734.8 270.52L735.8 270.19L736.8 269.35L737.8 269.05L738.8 268.61L739.8 269.37L740.8 269.61L741.8 269.73L742.8 269.95L743.8 270.25L744.8 270.87L745.8 271.22L746.8 271.57L747.8 271.12L748.8 270.90L749.8 270.40L750.8 270.97L751.8 270.94L752.8 270.53L753.8 270.18L754.8 269.57L755.8 269.56L756.8 269.73L757.8 269.52L758.8 269.42L759.8 269.66L760.8 270.14L761.8 270.64L762.8 269.78L763.8 269.53L764.8 269.21L765.8 269.88L766.8 269.95L767.8 270.47L768.8 270.44L769.8 270.65L770.8 270.34L771.8 270.60L772.8 270.44L773.8 270.82L774.8 270.74L775.8 270.96L776.8 270.58L777.8 270.61L778.8 270.91L779.8 271.23L780.8 271.18L781.8 271.13L782.8 270.85L783.8 271.15L784.8 270.84L785.8 270.08L786.8 270.11L787.8 270.16L788.8 270.47L789.8 269.94L790.8 269.59L791.8 270.73L792.8 270.98L793.8 270.74L794.8 270.19L795.8 269.88L796.8 271.09L797.8 270.53L798.8 269.87L799.8 269.22L800.8 269.45L801.8 270.07L802.8 269.28L803.8 269.53L804.8 270.23L805.8 270.27L806.8 270.49L807.8 269.65L808.8 271.08L809.8 270.75L810.8 270.80L811.8 270.28L812.8 270.20L813.8 269.95L814.8 269.68L815.8 269.18L816.8 268.61L817.8 268.91L818.8 268.79L819.8 269.02L820.8 268.24L821.8 267.62L822.8 267.16L823.8 266.67L824.8 266.84L825.8 267.14L826.8 267.52L827.8 267.37L828.8 267.36L829.8 267.04L830.8 266.71L831.8 266.52L832.8 265.91L833.8 266.61L834.8 266.68L835.8 267.02L836.8 266.22L837.8 266.17L838.8 265.99L839.8 266.81L840.8 266.87L841.8 267.01L842.8 267.25L843.8 267.73L844.8 268.00L845.8 268.28L846.8 268.13L847.8 268.44L848.8 268.28L849.8 268.32L850.8 268.46L851.8 268.54L852.8 269.51L853.8 270.35L854.8 270.47L855.8 270.63L856.8 270.22L857.8 270.55L858.8 270.40L859.8 270.61L860.8 271.40L861.8 271.24L862.8 270.78L863.8 270.45L864.8 270.26L865.8 270.61L866.8 269.15L867.8 269.67L868.8 270.08L869.8 271.42L870.8 271.43L871.8 271.75L872.8 271.46L873.8 271.46L874.8 270.62L875.8 270.52L876.8 270.57L877.8 270.97L878.8 270.63L879.8 270.39L880.8 270.20L881.8 270.38L882.8 270.41L883.8 270.33L884.8 270.08L885.8 269.54L886.8 270.30L887.8 270.32L888.8 270.79L889.8 270.39L890.8 271.15L891.8 270.64L892.8 270.32L893.8 270.15L894.8 270.86L895.8 270.75L896.8 270.30L897.8 270.37L898.8 270.99L899.8 271.52L900.8 270.97L901.8 270.73L902.8 270.64L903.8 271.15L904.8 270.57L905.8 270.58L906.8 270.23L907.8 270.29L908.8 270.32L909.8 270.40L910.8 270.64L911.8 270.71L912.8 270.21L913.8 270.33L914.8 270.35L915.8 270.95L916.8 271.34L917.8 270.78L918.8 270.16L919.8 269.87L920.8 270.45L921.8 271.72L922.8 271.85L923.8 271.39L924.8 270.94L925.8 270.43L926.8 270.22L927.8 270.85L928.8 271.26L929.8 272.04L930.8 271.33L931.8 271.85L932.8 271.70L933.8 271.93L934.8 270.95L935.8 270.37L936.8 270.44L937.8 271.32L938.8 272.32" fill="none" stroke="#b074dc" stroke-width="4.4" stroke-linejoin="round" stroke-linecap="butt"/>
<path d="M56.8 309.95L57.8 308.79L58.8 307.59L59.8 307.48L60.8 307.26L61.8 307.44L62.8 306.90L63.8 306.99L64.8 306.98L65.8 307.36L66.8 307.42L67.8 308.53L68.8 310.04L69.8 310.83L70.8 310.69L71.8 310.29L72.8 310.85L73.8 311.16L74.8 310.31L75.8 310.18L76.8 309.57L77.8 309.86L78.8 309.88L79.8 310.20L80.8 310.77L81.8 311.67L82.8 312.03L83.8 311.97L84.8 310.53L85.8 310.00L86.8 309.33L87.8 309.42L88.8 309.21L89.8 309.31L90.8 309.35L91.8 309.25L92.8 308.83L93.8 308.24L94.8 308.56L95.8 308.89L96.8 309.55L97.8 309.55L98.8 309.10L99.8 308.54L100.8 307.10L101.8 307.31L102.8 306.68L103.8 306.24L104.8 304.19L105.8 303.18L106.8 302.10L107.8 302.01L108.8 302.24L109.8 303.31L110.8 304.06L111.8 304.94L112.8 305.42L113.8 306.54L114.8 306.79L115.8 307.48L116.8 308.03L117.8 308.21L118.8 309.43L119.8 309.29L120.8 310.52L121.8 309.63L122.8 310.18L123.8 309.16L124.8 309.11L125.8 308.94L126.8 309.49L127.8 309.36L128.8 309.52L129.8 308.78L130.8 309.05L131.8 308.56L132.8 308.87L133.8 308.07L134.8 308.45L135.8 308.56L136.8 309.45L137.8 309.05L138.8 308.74L139.8 308.66L140.8 309.12L141.8 309.23L142.8 308.79L143.8 307.82L144.8 307.92L145.8 307.76L146.8 307.53L147.8 307.55L148.8 308.19L149.8 308.96L150.8 308.93L151.8 308.89L152.8 309.06L153.8 309.56L154.8 310.24L155.8 310.77L156.8 311.09L157.8 311.18L158.8 311.03L159.8 310.34L160.8 309.33L161.8 308.84L162.8 308.59L163.8 307.73L164.8 305.73L165.8 305.58L166.8 305.56L167.8 305.84L168.8 306.57L169.8 306.95L170.8 307.30L171.8 307.19L172.8 306.89L173.8 306.41L174.8 306.64L175.8 306.04L176.8 305.52L177.8 304.30L178.8 304.03L179.8 302.44L180.8 302.03L181.8 301.26L182.8 301.58L183.8 301.30L184.8 302.27L185.8 303.37L186.8 304.44L187.8 305.68L188.8 306.28L189.8 306.68L190.8 307.03L191.8 307.90L192.8 308.88L193.8 308.37L194.8 308.58L195.8 308.39L196.8 309.38L197.8 308.56L198.8 308.46L199.8 307.74L200.8 307.73L201.8 307.80L202.8 308.87L203.8 309.92L204.8 310.55L205.8 310.94L206.8 311.69L207.8 312.00L208.8 310.43L209.8 308.76L210.8 307.56L211.8 306.86L212.8 306.43L213.8 306.23L214.8 306.92L215.8 306.72L216.8 305.46L217.8 304.33L218.8 304.29L219.8 305.02L220.8 305.48L221.8 305.28L222.8 304.45L223.8 303.60L224.8 302.68L225.8 302.43L226.8 301.92L227.8 303.26L228.8 303.82L229.8 304.07L230.8 303.08L231.8 302.79L232.8 302.44L233.8 302.28L234.8 301.85L235.8 302.44L236.8 302.39L237.8 302.61L238.8 302.65L239.8 303.50L240.8 304.86L241.8 306.07L242.8 307.31L243.8 307.46L244.8 308.21L245.8 308.16L246.8 308.61L247.8 307.77L248.8 307.47L249.8 308.01L250.8 309.53L251.8 310.46L252.8 310.90L253.8 310.68L254.8 310.83L255.8 310.59L256.8 311.19L257.8 311.37L258.8 311.28L259.8 310.48L260.8 310.14L261.8 309.90L262.8 309.30L263.8 309.35L264.8 309.06L265.8 309.15L266.8 308.80L267.8 308.70L268.8 308.13L269.8 307.06L270.8 305.34L271.8 303.86L272.8 301.28L273.8 300.13L274.8 297.37L275.8 295.73L276.8 292.03L277.8 289.13L278.8 285.47L279.8 282.44L280.8 279.62L281.8 276.90L282.8 273.14L283.8 268.12L284.8 262.53L285.8 265.92L286.8 270.79L287.8 274.49L288.8 277.33L289.8 280.33L290.8 283.67L291.8 286.94L292.8 289.76L293.8 292.21L294.8 294.82L295.8 296.57L296.8 298.43L297.8 300.19L298.8 301.00L299.8 301.87L300.8 302.23L301.8 303.08L302.8 304.57L303.8 303.66L304.8 304.91L305.8 304.66L306.8 305.99L307.8 305.49L308.8 305.15L309.8 304.59L310.8 305.05L311.8 304.63L312.8 304.95L313.8 305.14L314.8 305.27L315.8 305.37L316.8 305.22L317.8 305.29L318.8 305.98L319.8 306.20L320.8 306.29L321.8 306.03L322.8 305.79L323.8 306.25L324.8 306.44L325.8 306.62L326.8 307.33L327.8 307.20L328.8 307.93L329.8 307.71L330.8 308.42L331.8 308.16L332.8 308.33L333.8 308.01L334.8 308.77L335.8 309.62L336.8 311.03L337.8 311.44L338.8 311.22L339.8 310.27L340.8 309.73L341.8 309.35L342.8 309.59L343.8 309.27L344.8 307.99L345.8 305.56L346.8 303.75L347.8 303.13L348.8 304.14L349.8 306.32L350.8 308.38L351.8 309.86L352.8 310.04L353.8 309.89L354.8 310.59L355.8 310.59L356.8 311.33L357.8 311.00L358.8 311.88L359.8 312.22L360.8 312.62L361.8 311.90L362.8 312.01L363.8 311.60L364.8 312.39L365.8 312.64L366.8 313.23L367.8 313.91L368.8 314.03L369.8 314.29L370.8 313.67L371.8 313.47L372.8 313.64L373.8 314.02L374.8 313.67L375.8 313.74L376.8 313.57L377.8 314.40L378.8 314.23L379.8 313.65L380.8 312.93L381.8 313.44L382.8 314.00L383.8 313.94L384.8 313.45L385.8 313.26L386.8 313.14L387.8 312.24L388.8 311.83L389.8 312.59L390.8 313.40L391.8 313.89L392.8 313.91L393.8 314.15L394.8 313.52L395.8 313.33L396.8 312.84L397.8 313.15L398.8 313.08L399.8 313.33L400.8 313.68L401.8 313.36L402.8 313.24L403.8 314.05L404.8 314.19L405.8 313.78L406.8 313.17L407.8 313.76L408.8 314.52L409.8 314.03L410.8 314.18L411.8 313.75L412.8 313.75L413.8 313.19L414.8 313.43L415.8 314.08L416.8 314.52L417.8 314.56L418.8 314.64L419.8 314.45L420.8 314.78L421.8 313.96L422.8 313.39L423.8 313.35L424.8 313.36L425.8 313.81L426.8 313.51L427.8 313.83L428.8 313.78L429.8 314.30L430.8 313.59L431.8 314.06L432.8 314.38L433.8 315.28L434.8 314.97L435.8 314.42L436.8 315.06L437.8 314.65L438.8 314.43L439.8 313.73L440.8 314.34L441.8 314.37L442.8 314.67L443.8 314.33L444.8 314.29L445.8 313.83L446.8 313.75L447.8 313.68L448.8 313.87L449.8 313.69L450.8 314.30L451.8 314.30L452.8 314.23L453.8 314.07L454.8 313.85L455.8 314.52L456.8 314.13L457.8 314.48L458.8 314.37L459.8 314.17L460.8 314.10L461.8 314.76L462.8 314.18L463.8 314.19L464.8 313.63L465.8 314.05L466.8 313.54L467.8 314.15L468.8 314.39L469.8 315.60L470.8 315.03L471.8 315.19L472.8 314.63L473.8 314.67L474.8 315.06L475.8 315.04L476.8 314.87L477.8 314.53L478.8 314.85L479.8 315.08L480.8 314.67L481.8 313.98L482.8 313.81L483.8 313.95L484.8 314.04L485.8 313.59L486.8 313.72L487.8 314.00L488.8 314.68L489.8 314.78L490.8 315.36L491.8 314.99L492.8 316.10L493.8 315.73L494.8 315.93L495.8 314.64L496.8 313.30L497.8 313.08L498.8 313.32L499.8 314.98L500.8 314.55L501.8 315.16L502.8 314.40L503.8 315.14L504.8 313.58L505.8 313.72L506.8 313.35L507.8 314.48L508.8 314.47L509.8 314.19L510.8 314.28L511.8 314.50L512.8 315.11L513.8 315.13L514.8 315.28L515.8 315.06L516.8 314.23L517.8 313.37L518.8 313.85L519.8 314.57L520.8 315.10L521.8 314.47L522.8 314.24L523.8 314.21L524.8 314.25L525.8 313.99L526.8 314.75L527.8 314.95L528.8 314.98L529.8 313.77L530.8 313.44L531.8 313.90L532.8 314.63L533.8 314.81L534.8 314.57L535.8 314.20L536.8 313.89L537.8 314.33L538.8 314.57L539.8 315.83L540.8 315.11L541.8 314.93L542.8 314.38L543.8 314.56L544.8 314.12L545.8 313.48L546.8 313.60L547.8 314.21L548.8 314.51L549.8 314.83L550.8 315.06L551.8 315.21L552.8 314.87L553.8 314.43L554.8 314.52L555.8 314.83L556.8 314.94L557.8 314.91L558.8 314.47L559.8 313.96L560.8 313.45L561.8 313.84L562.8 314.49L563.8 315.40L564.8 315.15L565.8 315.30L566.8 315.21L567.8 315.54L568.8 315.02L569.8 314.50L570.8 314.20L571.8 314.07L572.8 314.30L573.8 314.61L574.8 314.79L575.8 315.32L576.8 314.86L577.8 314.96L578.8 314.18L579.8 314.04L580.8 314.26L581.8 314.35L582.8 315.18L583.8 315.25L584.8 315.43L585.8 314.77L586.8 314.07L587.8 313.85L588.8 313.63L589.8 314.46L590.8 314.48L591.8 315.37L592.8 315.29L593.8 315.60L594.8 315.09L595.8 314.91L596.8 314.85L597.8 315.09L598.8 314.77L599.8 314.72L600.8 315.31L601.8 315.53L602.8 315.27L603.8 314.11L604.8 313.63L605.8 314.14L606.8 314.41L607.8 315.02L608.8 315.25L609.8 316.11L610.8 315.69L611.8 315.42L612.8 314.76L613.8 315.21L614.8 315.01L615.8 314.79L616.8 315.20L617.8 315.25L618.8 315.38L619.8 315.26L620.8 315.36L621.8 315.40L622.8 315.08L623.8 315.38L624.8 315.40L625.8 315.26L626.8 314.34L627.8 314.04L628.8 313.71L629.8 314.05L630.8 314.26L631.8 313.91L632.8 313.88L633.8 314.01L634.8 314.79L635.8 314.45L636.8 314.67L637.8 314.37L638.8 314.27L639.8 313.45L640.8 313.69L641.8 314.46L642.8 315.25L643.8 315.33L644.8 314.57L645.8 313.93L646.8 313.54L647.8 313.89L648.8 313.50L649.8 313.86L650.8 314.14L651.8 314.71L652.8 314.84L653.8 314.28L654.8 313.82L655.8 313.44L656.8 314.17L657.8 315.04L658.8 315.11L659.8 315.12L660.8 314.65L661.8 315.34L662.8 315.09L663.8 315.04L664.8 314.79L665.8 314.35L666.8 314.18L667.8 313.39L668.8 313.75L669.8 314.06L670.8 314.54L671.8 314.31L672.8 314.83L673.8 314.71L674.8 314.60L675.8 314.53L676.8 315.18L677.8 315.55L678.8 314.51L679.8 313.80L680.8 313.90L681.8 314.51L682.8 315.26L683.8 314.57L684.8 314.80L685.8 314.04L686.8 314.98L687.8 314.72L688.8 315.30L689.8 314.61L690.8 314.14L691.8 313.39L692.8 313.40L693.8 313.54L694.8 314.35L695.8 315.03L696.8 315.48L697.8 314.70L698.8 314.19L699.8 313.86L700.8 314.73L701.8 314.88L702.8 315.29L703.8 314.64L704.8 313.83L705.8 313.39L706.8 313.13L707.8 313.97L708.8 314.27L709.8 314.38L710.8 314.12L711.8 314.63L712.8 314.58L713.8 314.39L714.8 313.76L715.8 313.85L716.8 314.02L717.8 314.29L718.8 315.14L719.8 314.67L720.8 314.48L721.8 313.88L722.8 314.48L723.8 314.42L724.8 314.29L725.8 314.67L726.8 314.57L727.8 314.64L728.8 314.29L729.8 314.49L730.8 314.48L731.8 314.83L732.8 314.79L733.8 314.91L734.8 314.54L735.8 314.19L736.8 313.84L737.8 313.49L738.8 313.91L739.8 313.95L740.8 313.95L741.8 313.96L742.8 314.40L743.8 314.15L744.8 314.66L745.8 314.49L746.8 315.07L747.8 314.85L748.8 314.86L749.8 314.69L750.8 315.08L751.8 314.68L752.8 314.86L753.8 314.39L754.8 314.39L755.8 314.39L756.8 314.22L757.8 315.44L758.8 315.16L759.8 315.01L760.8 314.40L761.8 314.74L762.8 314.34L763.8 314.25L764.8 314.26L765.8 314.84L766.8 315.09L767.8 315.41L768.8 315.39L769.8 315.11L770.8 314.37L771.8 314.18L772.8 314.15L773.8 314.39L774.8 314.47L775.8 314.10L776.8 314.78L777.8 315.50L778.8 315.65L779.8 315.26L780.8 314.42L781.8 315.00L782.8 315.01L783.8 315.12L784.8 314.60L785.8 314.49L786.8 314.11L787.8 314.43L788.8 314.13L789.8 314.67L790.8 314.48L791.8 315.11L792.8 314.91L793.8 315.22L794.8 314.51L795.8 314.73L796.8 314.29L797.8 314.67L798.8 314.47L799.8 314.87L800.8 314.08L801.8 314.15L802.8 313.27L803.8 314.38L804.8 313.54L805.8 313.67L806.8 312.62L807.8 313.83L808.8 313.67L809.8 314.22L810.8 313.38L811.8 313.10L812.8 312.84L813.8 313.14L814.8 313.58L815.8 313.88L816.8 313.37L817.8 313.27L818.8 312.63L819.8 312.69L820.8 313.16L821.8 313.23L822.8 312.97L823.8 311.89L824.8 311.30L825.8 311.55L826.8 311.19L827.8 310.96L828.8 310.26L829.8 310.36L830.8 311.24L831.8 310.35L832.8 310.55L833.8 310.07L834.8 310.48L835.8 310.14L836.8 310.08L837.8 311.10L838.8 311.10L839.8 310.50L840.8 310.41L841.8 311.41L842.8 312.02L843.8 311.08L844.8 311.25L845.8 311.50L846.8 312.87L847.8 312.54L848.8 312.68L849.8 312.33L850.8 313.04L851.8 313.86L852.8 313.44L853.8 312.75L854.8 313.02L855.8 313.78L856.8 313.75L857.8 313.24L858.8 313.43L859.8 313.96L860.8 313.86L861.8 313.86L862.8 313.79L863.8 314.12L864.8 313.99L865.8 314.08L866.8 313.94L867.8 314.71L868.8 314.96L869.8 314.99L870.8 314.73L871.8 314.76L872.8 315.18L873.8 315.18L874.8 315.67L875.8 315.76L876.8 315.58L877.8 314.80L878.8 314.64L879.8 314.84L880.8 314.95L881.8 314.13L882.8 313.31L883.8 313.46L884.8 314.25L885.8 315.17L886.8 314.60L887.8 314.69L888.8 314.23L889.8 314.81L890.8 314.59L891.8 314.50L892.8 314.16L893.8 313.29L894.8 313.25L895.8 312.82L896.8 313.70L897.8 314.04L898.8 314.99L899.8 314.97L900.8 314.72L901.8 314.52L902.8 314.26L903.8 314.70L904.8 314.69L905.8 314.48L906.8 314.26L907.8 314.17L908.8 314.41L909.8 314.72L910.8 315.31L911.8 315.28L912.8 314.85L913.8 313.46L914.8 313.54L915.8 313.51L916.8 313.55L917.8 313.69L918.8 314.05L919.8 314.55L920.8 314.32L921.8 313.77L922.8 314.30L923.8 313.90L924.8 314.13L925.8 314.54L926.8 315.09L927.8 315.37L928.8 314.63L929.8 314.20L930.8 314.03L931.8 314.22L932.8 314.27L933.8 314.40L934.8 314.70L935.8 315.43L936.8 314.76L937.8 313.98L938.8 313.26" fill="none" stroke="#000000" stroke-width="4.4" stroke-linejoin="round" stroke-linecap="butt"/>
<path d="M56.8 345.41L57.8 345.95L58.8 346.56L59.8 345.69L60.8 344.92L61.8 344.58L62.8 344.83L63.8 344.88L64.8 344.87L65.8 345.09L66.8 345.55L67.8 345.28L68.8 344.48L69.8 344.50L70.8 345.12L71.8 345.95L72.8 346.04L73.8 345.85L74.8 346.24L75.8 346.26L76.8 346.19L77.8 345.13L78.8 344.50L79.8 344.29L80.8 344.28L81.8 344.08L82.8 343.94L83.8 344.76L84.8 345.33L85.8 346.02L86.8 345.64L87.8 345.54L88.8 344.63L89.8 344.57L90.8 345.29L91.8 346.07L92.8 346.73L93.8 346.68L94.8 346.75L95.8 346.53L96.8 346.30L97.8 346.35L98.8 346.19L99.8 345.67L100.8 344.54L101.8 342.93L102.8 341.44L103.8 340.06L104.8 340.18L105.8 339.69L106.8 340.67L107.8 342.24L108.8 344.01L109.8 344.68L110.8 344.56L111.8 345.57L112.8 346.16L113.8 346.51L114.8 346.17L115.8 346.16L116.8 347.11L117.8 347.18L118.8 347.20L119.8 346.02L120.8 346.29L121.8 346.92L122.8 347.76L123.8 348.10L124.8 347.85L125.8 348.06L126.8 348.05L127.8 348.27L128.8 346.98L129.8 346.12L130.8 345.28L131.8 345.42L132.8 345.13L133.8 345.53L134.8 345.77L135.8 346.13L136.8 346.14L137.8 346.05L138.8 346.98L139.8 346.48L140.8 346.77L141.8 345.96L142.8 346.77L143.8 347.26L144.8 347.68L145.8 347.95L146.8 347.42L147.8 348.39L148.8 348.75L149.8 349.53L150.8 348.52L151.8 347.99L152.8 348.18L153.8 348.80L154.8 349.31L155.8 349.23L156.8 348.98L157.8 349.40L158.8 349.25L159.8 349.69L160.8 348.94L161.8 348.84L162.8 348.16L163.8 348.52L164.8 348.64L165.8 349.23L166.8 349.18L167.8 349.15L168.8 348.06L169.8 348.33L170.8 348.14L171.8 349.18L172.8 348.76L173.8 348.26L174.8 347.88L175.8 347.99L176.8 348.72L177.8 348.43L178.8 347.61L179.8 347.36L180.8 347.01L181.8 347.76L182.8 346.96L183.8 346.64L184.8 345.95L185.8 346.20L186.8 345.63L187.8 345.43L188.8 344.33L189.8 344.94L190.8 343.88L191.8 343.10L192.8 342.48L193.8 342.75L194.8 343.95L195.8 344.48L196.8 344.75L197.8 344.41L198.8 344.10L199.8 344.10L200.8 344.07L201.8 344.33L202.8 343.70L203.8 344.19L204.8 344.41L205.8 346.31L206.8 346.60L207.8 346.52L208.8 345.86L209.8 345.18L210.8 345.12L211.8 344.19L212.8 344.99L213.8 345.25L214.8 345.30L215.8 344.57L216.8 344.48L217.8 344.85L218.8 344.80L219.8 343.99L220.8 343.42L221.8 343.13L222.8 343.55L223.8 343.28L224.8 342.66L225.8 342.55L226.8 342.35L227.8 342.98L228.8 342.57L229.8 343.16L230.8 343.41L231.8 343.65L232.8 343.76L233.8 343.00L234.8 342.72L235.8 342.88L236.8 343.93L237.8 344.83L238.8 345.55L239.8 345.19L240.8 344.80L241.8 344.35L242.8 344.25L243.8 344.16L244.8 343.44L245.8 343.77L246.8 343.40L247.8 343.93L248.8 343.07L249.8 343.81L250.8 343.24L251.8 344.01L252.8 343.04L253.8 343.19L254.8 343.24L255.8 343.40L256.8 343.43L257.8 342.64L258.8 341.84L259.8 341.56L260.8 341.43L261.8 341.29L262.8 340.72L263.8 339.51L264.8 338.66L265.8 337.45L266.8 336.39L267.8 336.33L268.8 334.49L269.8 333.62L270.8 331.74L271.8 330.09L272.8 327.67L273.8 325.87L274.8 324.62L275.8 323.45L276.8 321.58L277.8 319.40L278.8 316.59L279.8 312.97L280.8 311.11L281.8 309.54L282.8 309.63L283.8 309.53L284.8 310.21L285.8 312.50L286.8 315.44L287.8 319.49L288.8 322.11L289.8 325.31L290.8 328.40L291.8 331.90L292.8 334.46L293.8 337.15L294.8 339.29L295.8 341.33L296.8 342.20L297.8 343.52L298.8 344.20L299.8 344.03L300.8 343.84L301.8 344.16L302.8 345.79L303.8 346.20L304.8 346.37L305.8 346.01L306.8 346.53L307.8 346.63L308.8 346.79L309.8 346.43L310.8 346.90L311.8 347.04L312.8 346.82L313.8 346.94L314.8 346.98L315.8 347.78L316.8 347.77L317.8 348.52L318.8 348.85L319.8 348.59L320.8 348.19L321.8 347.45L322.8 348.31L323.8 348.60L324.8 349.61L325.8 348.98L326.8 348.17L327.8 348.28L328.8 348.49L329.8 349.31L330.8 348.85L331.8 349.11L332.8 349.31L333.8 348.80L334.8 349.01L335.8 348.70L336.8 349.14L337.8 349.40L338.8 349.94L339.8 350.00L340.8 348.73L341.8 348.39L342.8 348.47L343.8 348.55L344.8 347.04L345.8 345.15L346.8 343.34L347.8 343.12L348.8 344.02L349.8 346.03L350.8 347.20L351.8 348.20L352.8 348.77L353.8 349.19L354.8 349.19L355.8 349.79L356.8 350.09L357.8 350.53L358.8 349.73L359.8 349.80L360.8 349.02L361.8 349.31L362.8 349.86L363.8 351.35L364.8 351.92L365.8 351.89L366.8 351.30L367.8 350.79L368.8 350.59L369.8 350.85L370.8 350.83L371.8 351.26L372.8 350.75L373.8 350.44L374.8 349.81L375.8 349.61L376.8 349.79L377.8 350.58L378.8 351.13L379.8 351.72L380.8 351.76L381.8 352.31L382.8 352.09L383.8 352.18L384.8 351.90L385.8 352.10L386.8 351.82L387.8 351.21L388.8 350.96L389.8 350.79L390.8 351.52L391.8 351.69L392.8 351.70L393.8 351.84L394.8 352.48L395.8 352.81L396.8 352.92L397.8 352.30L398.8 351.94L399.8 351.61L400.8 351.65L401.8 351.59L402.8 352.06L403.8 352.11L404.8 351.95L405.8 351.55L406.8 352.27L407.8 352.64L408.8 352.91L409.8 352.12L410.8 351.93L411.8 351.26L412.8 351.37L413.8 352.19L414.8 352.03L415.8 352.66L416.8 351.67L417.8 352.00L418.8 351.72L419.8 352.30L420.8 352.48L421.8 351.62L422.8 351.53L423.8 351.08L424.8 352.56L425.8 352.36L426.8 352.79L427.8 351.50L428.8 351.41L429.8 350.89L430.8 351.64L431.8 351.72L432.8 352.37L433.8 351.79L434.8 351.71L435.8 351.97L436.8 351.87L437.8 351.42L438.8 351.12L439.8 351.06L440.8 351.54L441.8 351.72L442.8 351.84L443.8 352.30L444.8 351.75L445.8 352.56L446.8 352.72L447.8 352.79L448.8 352.20L449.8 351.45L450.8 351.69L451.8 352.17L452.8 351.95L453.8 352.21L454.8 351.35L455.8 351.55L456.8 350.61L457.8 351.81L458.8 352.13L459.8 352.85L460.8 351.88L461.8 352.23L462.8 351.41L463.8 351.66L464.8 352.06L465.8 352.67L466.8 352.66L467.8 352.13L468.8 351.98L469.8 351.99L470.8 352.09L471.8 352.44L472.8 352.57L473.8 352.11L474.8 352.15L475.8 352.05L476.8 352.68L477.8 352.82L478.8 352.72L479.8 351.36L480.8 351.36L481.8 351.71L482.8 352.25L483.8 351.30L484.8 350.64L485.8 351.28L486.8 351.61L487.8 351.85L488.8 351.61L489.8 352.41L490.8 352.57L491.8 352.46L492.8 351.84L493.8 352.42L494.8 352.83L495.8 352.99L496.8 351.93L497.8 351.28L498.8 351.52L499.8 351.76L500.8 352.35L501.8 352.28L502.8 352.63L503.8 352.55L504.8 352.60L505.8 352.20L506.8 351.86L507.8 352.51L508.8 352.39L509.8 352.34L510.8 351.89L511.8 352.26L512.8 352.14L513.8 351.31L514.8 351.56L515.8 352.20L516.8 353.15L517.8 352.99L518.8 353.00L519.8 352.15L520.8 352.19L521.8 351.59L522.8 352.01L523.8 352.22L524.8 352.83L525.8 352.43L526.8 352.61L527.8 352.07L528.8 352.06L529.8 351.56L530.8 351.22L531.8 351.58L532.8 351.74L533.8 352.19L534.8 352.37L535.8 352.16L536.8 352.24L537.8 351.55L538.8 351.68L539.8 351.38L540.8 351.73L541.8 351.68L542.8 352.05L543.8 351.63L544.8 351.12L545.8 350.95L546.8 351.69L547.8 352.37L548.8 352.79L549.8 353.08L550.8 353.13L551.8 352.81L552.8 352.00L553.8 351.49L554.8 351.34L555.8 351.79L556.8 352.20L557.8 352.37L558.8 352.23L559.8 352.37L560.8 352.44L561.8 352.60L562.8 352.49L563.8 352.23L564.8 351.77L565.8 351.83L566.8 352.17L567.8 352.46L568.8 352.14L569.8 352.79L570.8 352.61L571.8 352.68L572.8 351.98L573.8 351.84L574.8 351.96L575.8 352.49L576.8 353.23L577.8 353.41L578.8 352.99L579.8 352.70L580.8 352.82L581.8 352.56L582.8 352.37L583.8 352.07L584.8 352.45L585.8 352.71L586.8 352.91L587.8 351.89L588.8 352.19L589.8 352.78L590.8 353.95L591.8 353.43L592.8 352.31L593.8 351.94L594.8 351.71L595.8 352.26L596.8 351.98L597.8 352.67L598.8 352.89L599.8 352.36L600.8 352.13L601.8 351.41L602.8 351.63L603.8 351.31L604.8 351.48L605.8 352.34L606.8 352.02L607.8 352.47L608.8 352.81L609.8 353.55L610.8 353.38L611.8 352.67L612.8 352.05L613.8 352.05L614.8 352.19L615.8 352.86L616.8 353.57L617.8 353.69L618.8 353.58L619.8 353.23L620.8 352.51L621.8 351.96L622.8 351.28L623.8 351.53L624.8 352.17L625.8 352.19L626.8 353.03L627.8 353.32L628.8 353.70L629.8 352.95L630.8 352.64L631.8 352.65L632.8 352.42L633.8 352.32L634.8 352.29L635.8 352.74L636.8 353.16L637.8 353.34L638.8 352.98L639.8 352.47L640.8 351.76L641.8 352.25L642.8 351.90L643.8 352.52L644.8 352.45L645.8 353.09L646.8 352.72L647.8 352.07L648.8 352.35L649.8 352.34L650.8 353.33L651.8 352.87L652.8 353.16L653.8 353.32L654.8 353.29L655.8 353.54L656.8 352.38L657.8 352.57L658.8 352.00L659.8 352.47L660.8 352.17L661.8 352.37L662.8 353.00L663.8 352.35L664.8 352.24L665.8 351.41L666.8 352.47L667.8 352.30L668.8 352.71L669.8 352.17L670.8 352.55L671.8 352.74L672.8 352.74L673.8 352.53L674.8 351.68L675.8 351.92L676.8 352.21L677.8 352.51L678.8 352.79L679.8 351.77L680.8 351.32L681.8 350.44L682.8 350.99L683.8 351.65L684.8 352.11L685.8 352.25L686.8 352.50L687.8 352.36L688.8 351.94L689.8 351.25L690.8 352.16L691.8 351.78L692.8 352.15L693.8 351.92L694.8 352.91L695.8 352.68L696.8 352.18L697.8 352.31L698.8 353.02L699.8 352.71L700.8 352.67L701.8 352.34L702.8 353.04L703.8 353.26L704.8 353.05L705.8 352.16L706.8 351.81L707.8 352.55L708.8 353.29L709.8 353.24L710.8 353.46L711.8 352.85L712.8 353.09L713.8 352.05L714.8 352.43L715.8 352.15L716.8 352.87L717.8 352.53L718.8 352.31L719.8 351.23L720.8 351.72L721.8 351.75L722.8 352.45L723.8 351.91L724.8 351.94L725.8 352.16L726.8 352.47L727.8 352.82L728.8 352.64L729.8 352.58L730.8 351.81L731.8 351.97L732.8 352.16L733.8 353.04L734.8 352.00L735.8 351.36L736.8 350.27L737.8 350.66L738.8 351.61L739.8 352.55L740.8 352.85L741.8 352.53L742.8 352.60L743.8 352.50L744.8 352.60L745.8 352.38L746.8 351.72L747.8 351.45L748.8 351.87L749.8 352.50L750.8 352.58L751.8 351.90L752.8 351.87L753.8 352.31L754.8 352.43L755.8 352.24L756.8 350.76L757.8 350.65L758.8 350.32L759.8 350.77L760.8 351.25L761.8 352.19L762.8 352.15L763.8 352.17L764.8 352.09L765.8 352.48L766.8 352.44L767.8 351.71L768.8 351.56L769.8 350.80L770.8 350.98L771.8 351.71L772.8 351.75L773.8 351.74L774.8 351.10L775.8 351.63L776.8 351.91L777.8 352.55L778.8 352.23L779.8 351.90L780.8 351.42L781.8 351.68L782.8 351.81L783.8 352.08L784.8 352.70L785.8 352.82L786.8 352.74L787.8 352.57L788.8 352.55L789.8 352.24L790.8 351.38L791.8 351.74L792.8 352.22L793.8 352.54L794.8 352.42L795.8 352.68L796.8 353.03L797.8 352.51L798.8 352.06L799.8 351.78L800.8 352.51L801.8 352.43L802.8 352.15L803.8 351.73L804.8 351.17L805.8 351.35L806.8 351.22L807.8 351.88L808.8 351.36L809.8 351.22L810.8 350.21L811.8 349.28L812.8 348.61L813.8 347.85L814.8 347.80L815.8 346.92L816.8 346.94L817.8 346.06L818.8 346.12L819.8 345.70L820.8 346.12L821.8 345.85L822.8 345.44L823.8 345.10L824.8 344.87L825.8 345.38L826.8 346.39L827.8 347.45L828.8 347.70L829.8 347.53L830.8 347.38L831.8 347.58L832.8 347.82L833.8 348.22L834.8 347.92L835.8 347.07L836.8 346.80L837.8 347.17L838.8 348.43L839.8 348.78L840.8 349.13L841.8 349.19L842.8 349.07L843.8 348.73L844.8 348.56L845.8 348.68L846.8 348.44L847.8 347.58L848.8 346.63L849.8 346.81L850.8 347.16L851.8 348.16L852.8 348.43L853.8 349.04L854.8 349.46L855.8 350.14L856.8 350.88L857.8 351.29L858.8 350.82L859.8 350.19L860.8 349.70L861.8 350.19L862.8 350.89L863.8 351.73L864.8 351.93L865.8 351.94L866.8 351.63L867.8 351.42L868.8 350.88L869.8 350.86L870.8 351.85L871.8 351.88L872.8 352.61L873.8 352.58L874.8 352.98L875.8 352.53L876.8 351.85L877.8 351.91L878.8 352.15L879.8 352.37L880.8 352.73L881.8 352.91L882.8 353.03L883.8 352.79L884.8 352.36L885.8 352.36L886.8 351.86L887.8 352.02L888.8 351.97L889.8 352.06L890.8 352.67L891.8 352.25L892.8 352.25L893.8 351.60L894.8 351.26L895.8 351.29L896.8 350.66L897.8 351.00L898.8 351.23L899.8 351.87L900.8 352.59L901.8 352.92L902.8 353.22L903.8 353.04L904.8 352.60L905.8 352.57L906.8 352.20L907.8 352.15L908.8 352.29L909.8 352.74L910.8 353.03L911.8 352.76L912.8 352.79L913.8 352.23L914.8 351.94L915.8 351.22L916.8 351.74L917.8 351.54L918.8 352.42L919.8 352.56L920.8 352.51L921.8 352.03L922.8 351.43L923.8 351.73L924.8 351.92L925.8 352.44L926.8 351.75L927.8 351.44L928.8 351.53L929.8 352.31L930.8 352.83L931.8 352.20L932.8 352.28L933.8 351.65L934.8 352.16L935.8 352.12L936.8 352.59L937.8 352.32L938.8 351.98" fill="none" stroke="#e6a92a" stroke-width="4.4" stroke-linejoin="round" stroke-linecap="butt"/>
<path d="M56.8 440.41L57.8 439.17L58.8 438.79L59.8 438.90L60.8 439.09L61.8 439.53L62.8 440.64L63.8 442.52L64.8 443.57L65.8 443.81L66.8 442.85L67.8 442.51L68.8 442.38L69.8 442.95L70.8 443.04L71.8 442.78L72.8 443.09L73.8 443.31L74.8 443.26L75.8 442.26L76.8 441.94L77.8 441.30L78.8 441.62L79.8 441.90L80.8 442.86L81.8 443.92L82.8 444.33L83.8 445.34L84.8 445.92L85.8 447.11L86.8 447.64L87.8 448.01L88.8 448.18L89.8 448.28L90.8 448.44L91.8 448.92L92.8 448.84L93.8 448.76L94.8 447.94L95.8 447.58L96.8 446.78L97.8 446.69L98.8 446.41L99.8 446.47L100.8 445.59L101.8 444.76L102.8 443.56L103.8 442.52L104.8 442.41L105.8 442.40L106.8 442.79L107.8 442.59L108.8 443.56L109.8 444.11L110.8 445.36L111.8 445.28L112.8 445.50L113.8 445.48L114.8 445.89L115.8 446.11L116.8 446.94L117.8 447.15L118.8 447.44L119.8 447.36L120.8 447.70L121.8 448.23L122.8 448.67L123.8 448.98L124.8 448.71L125.8 447.60L126.8 446.73L127.8 445.30L128.8 444.85L129.8 443.81L130.8 443.49L131.8 442.97L132.8 442.83L133.8 443.21L134.8 443.74L135.8 443.99L136.8 444.97L137.8 446.52L138.8 448.67L139.8 450.07L140.8 450.02L141.8 449.28L142.8 448.21L143.8 447.94L144.8 448.22L145.8 448.12L146.8 447.91L147.8 447.99L148.8 448.12L149.8 448.59L150.8 449.48L151.8 451.05L152.8 451.53L153.8 452.09L154.8 451.83L155.8 452.09L156.8 451.28L157.8 451.86L158.8 451.87L159.8 452.78L160.8 452.06L161.8 451.66L162.8 450.03L163.8 450.12L164.8 450.00L165.8 450.60L166.8 449.74L167.8 450.30L168.8 450.79L169.8 451.32L170.8 450.92L171.8 450.21L172.8 449.95L173.8 449.31L174.8 449.35L175.8 449.00L176.8 448.80L177.8 448.18L178.8 447.53L179.8 447.48L180.8 447.89L181.8 448.68L182.8 448.68L183.8 448.35L184.8 447.22L185.8 446.70L186.8 446.07L187.8 446.26L188.8 445.53L189.8 444.87L190.8 443.73L191.8 441.60L192.8 440.12L193.8 439.28L194.8 439.32L195.8 439.62L196.8 439.84L197.8 439.79L198.8 438.98L199.8 439.55L200.8 441.30L201.8 442.96L202.8 443.85L203.8 443.89L204.8 444.42L205.8 445.27L206.8 446.27L207.8 445.46L208.8 444.58L209.8 443.42L210.8 443.55L211.8 442.62L212.8 442.78L213.8 442.81L214.8 443.75L215.8 444.60L216.8 445.13L217.8 445.92L218.8 445.37L219.8 444.93L220.8 443.83L221.8 442.87L222.8 441.93L223.8 441.27L224.8 441.51L225.8 441.89L226.8 441.74L227.8 441.55L228.8 439.71L229.8 438.15L230.8 437.11L231.8 436.54L232.8 436.47L233.8 437.41L234.8 438.50L235.8 441.53L236.8 442.51L237.8 443.07L238.8 442.78L239.8 443.51L240.8 443.97L241.8 445.68L242.8 446.46L243.8 446.68L244.8 445.26L245.8 444.94L246.8 444.30L247.8 444.67L248.8 444.87L249.8 445.32L250.8 445.79L251.8 446.04L252.8 446.19L253.8 446.00L254.8 445.56L255.8 445.01L256.8 444.88L257.8 444.56L258.8 444.34L259.8 445.22L260.8 446.03L261.8 447.05L262.8 447.00L263.8 447.14L264.8 446.48L265.8 446.06L266.8 445.78L267.8 444.90L268.8 443.49L269.8 441.79L270.8 440.56L271.8 439.04L272.8 437.89L273.8 436.64L274.8 435.25L275.8 433.77L276.8 432.72L277.8 431.38L278.8 430.22L279.8 428.31L280.8 426.80L281.8 425.39L282.8 424.88L283.8 425.57L284.8 426.51L285.8 427.04L286.8 427.72L287.8 428.16L288.8 430.34L289.8 432.21L290.8 435.04L291.8 437.13L292.8 439.59L293.8 441.71L294.8 442.86L295.8 443.76L296.8 444.55L297.8 446.57L298.8 447.56L299.8 448.24L300.8 447.75L301.8 448.61L302.8 448.49L303.8 448.51L304.8 448.13L305.8 447.97L306.8 448.29L307.8 448.13L308.8 447.97L309.8 447.10L310.8 446.20L311.8 445.78L312.8 445.88L313.8 446.26L314.8 446.60L315.8 446.38L316.8 445.88L317.8 445.71L318.8 445.05L319.8 445.06L320.8 445.21L321.8 445.82L322.8 445.47L323.8 444.62L324.8 444.09L325.8 444.10L326.8 443.16L327.8 442.16L328.8 441.49L329.8 442.65L330.8 443.83L331.8 445.53L332.8 446.36L333.8 447.95L334.8 448.48L335.8 449.04L336.8 448.73L337.8 449.30L338.8 449.88L339.8 449.99L340.8 450.04L341.8 449.74L342.8 450.08L343.8 449.85L344.8 449.99L345.8 450.09L346.8 450.26L347.8 450.87L348.8 451.36L349.8 451.65L350.8 451.26L351.8 451.33L352.8 450.90L353.8 450.74L354.8 450.78L355.8 451.61L356.8 452.49L357.8 452.29L358.8 451.80L359.8 451.44L360.8 451.72L361.8 451.92L362.8 451.91L363.8 451.41L364.8 451.35L365.8 451.84L366.8 452.41L367.8 452.45L368.8 451.95L369.8 451.71L370.8 452.23L371.8 452.25L372.8 452.40L373.8 451.67L374.8 451.68L375.8 451.88L376.8 452.78L377.8 452.84L378.8 452.53L379.8 452.53L380.8 452.77L381.8 452.86L382.8 452.81L383.8 453.00L384.8 453.49L385.8 453.59L386.8 453.39L387.8 453.06L388.8 452.83L389.8 452.63L390.8 452.40L391.8 452.71L392.8 452.66L393.8 453.22L394.8 453.04L395.8 453.46L396.8 453.34L397.8 453.40L398.8 453.79L399.8 453.53L400.8 453.33L401.8 452.92L402.8 453.57L403.8 453.91L404.8 453.72L405.8 453.10L406.8 452.64L407.8 452.90L408.8 453.06L409.8 453.92L410.8 453.40L411.8 453.63L412.8 453.11L413.8 453.43L414.8 453.10L415.8 452.84L416.8 453.06L417.8 453.39L418.8 453.10L419.8 453.46L420.8 453.08L421.8 453.93L422.8 453.68L423.8 454.14L424.8 453.88L425.8 454.07L426.8 453.74L427.8 453.35L428.8 453.23L429.8 453.42L430.8 454.25L431.8 453.50L432.8 453.25L433.8 452.95L434.8 453.17L435.8 453.16L436.8 453.46L437.8 454.22L438.8 454.04L439.8 453.85L440.8 453.78L441.8 454.25L442.8 453.96L443.8 453.70L444.8 453.23L445.8 452.98L446.8 453.12L447.8 453.41L448.8 454.08L449.8 453.78L450.8 453.06L451.8 452.45L452.8 452.62L453.8 453.41L454.8 453.53L455.8 453.22L456.8 453.53L457.8 453.33L458.8 453.76L459.8 453.26L460.8 453.11L461.8 453.31L462.8 452.69L463.8 452.79L464.8 452.51L465.8 453.12L466.8 453.58L467.8 453.43L468.8 453.40L469.8 453.80L470.8 453.77L471.8 453.85L472.8 452.94L473.8 452.79L474.8 453.02L475.8 453.49L476.8 453.70L477.8 453.32L478.8 453.36L479.8 452.88L480.8 452.98L481.8 452.72L482.8 452.96L483.8 453.10L484.8 452.98L485.8 453.00L486.8 453.46L487.8 453.86L488.8 454.43L489.8 453.94L490.8 454.00L491.8 453.89L492.8 454.22L493.8 454.61L494.8 454.33L495.8 454.06L496.8 453.38L497.8 452.46L498.8 451.99L499.8 452.01L500.8 453.18L501.8 453.42L502.8 453.73L503.8 453.92L504.8 453.96L505.8 454.05L506.8 454.18L507.8 454.43L508.8 453.75L509.8 453.67L510.8 453.50L511.8 453.67L512.8 453.29L513.8 453.19L514.8 453.60L515.8 453.78L516.8 454.28L517.8 454.14L518.8 453.70L519.8 453.31L520.8 453.40L521.8 453.51L522.8 454.38L523.8 454.06L524.8 454.01L525.8 453.51L526.8 453.79L527.8 453.95L528.8 453.56L529.8 453.47L530.8 453.72L531.8 454.00L532.8 453.79L533.8 453.68L534.8 453.70L535.8 454.00L536.8 453.01L537.8 452.52L538.8 452.09L539.8 452.90L540.8 453.20L541.8 453.68L542.8 453.92L543.8 453.83L544.8 453.58L545.8 453.90L546.8 453.77L547.8 453.85L548.8 453.79L549.8 454.06L550.8 453.40L551.8 453.07L552.8 452.86L553.8 453.40L554.8 453.60L555.8 453.84L556.8 453.80L557.8 453.75L558.8 453.74L559.8 453.85L560.8 453.68L561.8 453.63L562.8 453.50L563.8 453.29L564.8 453.23L565.8 453.05L566.8 452.83L567.8 453.19L568.8 453.39L569.8 453.74L570.8 453.34L571.8 453.41L572.8 453.42L573.8 453.48L574.8 453.25L575.8 453.50L576.8 453.29L577.8 453.81L578.8 453.01L579.8 452.90L580.8 452.89L581.8 453.39L582.8 453.50L583.8 453.33L584.8 453.08L585.8 453.29L586.8 452.56L587.8 452.73L588.8 452.52L589.8 453.30L590.8 453.67L591.8 453.62L592.8 453.92L593.8 453.51L594.8 453.17L595.8 452.04L596.8 452.64L597.8 453.20L598.8 453.69L599.8 453.04L600.8 452.76L601.8 453.33L602.8 453.51L603.8 454.33L604.8 453.89L605.8 453.25L606.8 452.99L607.8 452.94L608.8 453.54L609.8 453.74L610.8 453.77L611.8 454.17L612.8 453.72L613.8 453.59L614.8 453.40L615.8 453.23L616.8 453.79L617.8 453.92L618.8 454.11L619.8 453.94L620.8 453.82L621.8 453.73L622.8 453.81L623.8 453.59L624.8 453.84L625.8 453.32L626.8 453.41L627.8 453.36L628.8 453.40L629.8 453.26L630.8 452.99L631.8 453.42L632.8 453.34L633.8 453.61L634.8 453.84L635.8 454.14L636.8 453.57L637.8 453.17L638.8 453.37L639.8 453.74L640.8 454.02L641.8 453.90L642.8 454.10L643.8 453.72L644.8 453.40L645.8 453.21L646.8 453.30L647.8 453.60L648.8 453.79L649.8 453.69L650.8 453.56L651.8 453.55L652.8 453.18L653.8 452.95L654.8 452.61L655.8 453.02L656.8 453.16L657.8 453.31L658.8 453.13L659.8 453.39L660.8 453.55L661.8 453.33L662.8 453.15L663.8 452.75L664.8 453.70L665.8 453.57L666.8 453.78L667.8 453.32L668.8 453.40L669.8 453.50L670.8 453.91L671.8 454.03L672.8 454.29L673.8 454.17L674.8 453.83L675.8 454.08L676.8 453.96L677.8 454.50L678.8 453.79L679.8 453.83L680.8 453.67L681.8 453.77L682.8 454.19L683.8 454.23L684.8 454.32L685.8 453.73L686.8 453.83L687.8 454.22L688.8 454.33L689.8 454.42L690.8 454.52L691.8 454.01L692.8 453.53L693.8 452.86L694.8 453.24L695.8 453.78L696.8 454.23L697.8 453.92L698.8 453.43L699.8 453.54L700.8 453.69L701.8 453.74L702.8 453.54L703.8 453.18L704.8 453.43L705.8 453.45L706.8 454.12L707.8 453.63L708.8 453.32L709.8 452.99L710.8 453.34L711.8 453.58L712.8 453.79L713.8 454.23L714.8 454.58L715.8 454.34L716.8 453.66L717.8 453.78L718.8 453.89L719.8 454.47L720.8 454.44L721.8 454.38L722.8 453.91L723.8 453.49L724.8 453.40L725.8 453.21L726.8 453.07L727.8 453.56L728.8 453.71L729.8 453.77L730.8 453.40L731.8 453.14L732.8 453.62L733.8 453.10L734.8 453.30L735.8 453.04L736.8 453.31L737.8 453.67L738.8 453.87L739.8 454.02L740.8 453.91L741.8 453.25L742.8 453.64L743.8 453.61L744.8 453.98L745.8 454.23L746.8 454.34L747.8 454.66L748.8 454.45L749.8 453.98L750.8 453.68L751.8 453.64L752.8 453.58L753.8 453.88L754.8 453.76L755.8 454.28L756.8 453.65L757.8 453.65L758.8 453.64L759.8 453.80L760.8 453.80L761.8 453.12L762.8 453.60L763.8 453.26L764.8 453.25L765.8 452.60L766.8 452.68L767.8 453.45L768.8 453.46L769.8 453.78L770.8 453.35L771.8 454.24L772.8 454.31L773.8 455.13L774.8 454.23L775.8 454.26L776.8 453.44L777.8 453.89L778.8 453.90L779.8 453.72L780.8 453.23L781.8 452.71L782.8 452.74L783.8 452.85L784.8 452.91L785.8 452.93L786.8 453.16L787.8 453.59L788.8 453.62L789.8 453.44L790.8 453.29L791.8 453.59L792.8 453.54L793.8 453.75L794.8 454.04L795.8 454.41L796.8 454.10L797.8 454.39L798.8 454.65L799.8 454.56L800.8 453.92L801.8 453.71L802.8 453.54L803.8 453.62L804.8 453.22L805.8 452.99L806.8 452.09L807.8 450.61L808.8 449.49L809.8 447.86L810.8 447.76L811.8 446.99L812.8 446.92L813.8 445.97L814.8 445.53L815.8 445.33L816.8 445.44L817.8 445.74L818.8 446.03L819.8 446.50L820.8 445.35L821.8 443.51L822.8 441.82L823.8 440.93L824.8 440.92L825.8 441.26L826.8 442.93L827.8 444.42L828.8 445.70L829.8 446.07L830.8 446.51L831.8 447.54L832.8 447.96L833.8 448.02L834.8 448.14L835.8 447.93L836.8 448.51L837.8 448.94L838.8 449.78L839.8 450.11L840.8 450.05L841.8 450.31L842.8 450.25L843.8 450.00L844.8 449.84L845.8 449.88L846.8 450.55L847.8 451.13L848.8 451.31L849.8 450.76L850.8 450.05L851.8 449.72L852.8 450.12L853.8 450.23L854.8 450.17L855.8 449.75L856.8 450.54L857.8 451.49L858.8 452.52L859.8 452.84L860.8 453.46L861.8 453.62L862.8 454.25L863.8 454.28L864.8 454.48L865.8 454.37L866.8 454.08L867.8 453.90L868.8 453.63L869.8 453.43L870.8 453.82L871.8 453.91L872.8 454.33L873.8 454.42L874.8 453.55L875.8 453.48L876.8 452.75L877.8 453.68L878.8 453.35L879.8 453.89L880.8 454.24L881.8 454.01L882.8 454.04L883.8 453.64L884.8 453.59L885.8 453.72L886.8 453.76L887.8 454.15L888.8 453.77L889.8 454.67L890.8 454.71L891.8 454.41L892.8 453.24L893.8 453.26L894.8 453.66L895.8 453.90L896.8 453.71L897.8 453.98L898.8 453.87L899.8 453.78L900.8 453.40L901.8 453.43L902.8 454.06L903.8 454.43L904.8 454.44L905.8 454.21L906.8 454.14L907.8 454.81L908.8 454.63L909.8 454.71L910.8 454.34L911.8 454.25L912.8 454.17L913.8 454.01L914.8 454.15L915.8 454.26L916.8 454.50L917.8 454.96L918.8 454.74L919.8 454.51L920.8 454.85L921.8 454.60L922.8 454.61L923.8 454.20L924.8 454.55L925.8 454.67L926.8 454.47L927.8 454.64L928.8 454.82L929.8 454.71L930.8 454.55L931.8 454.18L932.8 454.13L933.8 454.06L934.8 453.76L935.8 454.08L936.8 454.57L937.8 455.37L938.8 455.64" fill="none" stroke="#ff0000" stroke-width="4.4" stroke-linejoin="round" stroke-linecap="butt"/>
<path d="M56.8 537.29L57.8 535.30L58.8 532.92L59.8 531.95L60.8 531.23L61.8 530.76L62.8 531.27L63.8 531.46L64.8 532.76L65.8 533.17L66.8 534.14L67.8 535.08L68.8 536.76L69.8 537.88L70.8 538.19L71.8 538.21L72.8 538.15L73.8 538.65L74.8 538.83L75.8 539.31L76.8 539.92L77.8 540.00L78.8 540.06L79.8 540.65L80.8 541.28L81.8 541.79L82.8 542.87L83.8 544.43L84.8 544.75L85.8 544.18L86.8 544.29L87.8 544.83L88.8 545.49L89.8 545.35L90.8 545.95L91.8 545.17L92.8 544.57L93.8 543.96L94.8 545.17L95.8 545.87L96.8 545.71L97.8 545.55L98.8 545.91L99.8 546.52L100.8 546.38L101.8 546.45L102.8 547.12L103.8 547.48L104.8 547.80L105.8 547.71L106.8 547.91L107.8 547.81L108.8 548.31L109.8 548.70L110.8 549.28L111.8 549.88L112.8 550.52L113.8 551.27L114.8 550.75L115.8 551.07L116.8 550.81L117.8 551.26L118.8 550.97L119.8 551.76L120.8 552.46L121.8 552.61L122.8 551.85L123.8 551.56L124.8 551.63L125.8 552.55L126.8 551.99L127.8 551.45L128.8 550.71L129.8 551.11L130.8 551.34L131.8 550.56L132.8 550.04L133.8 549.18L134.8 548.74L135.8 547.55L136.8 547.93L137.8 548.64L138.8 549.40L139.8 549.96L140.8 549.94L141.8 550.88L142.8 550.97L143.8 550.98L144.8 550.57L145.8 550.18L146.8 550.06L147.8 550.37L148.8 551.19L149.8 552.46L150.8 552.35L151.8 551.97L152.8 551.32L153.8 552.77L154.8 553.76L155.8 553.84L156.8 553.31L157.8 552.77L158.8 551.73L159.8 551.27L160.8 550.85L161.8 551.17L162.8 550.60L163.8 550.96L164.8 551.35L165.8 551.69L166.8 550.04L167.8 548.43L168.8 547.09L169.8 545.92L170.8 544.38L171.8 541.28L172.8 539.82L173.8 537.94L174.8 536.60L175.8 534.40L176.8 532.38L177.8 530.76L178.8 529.81L179.8 528.81L180.8 528.50L181.8 527.45L182.8 527.06L183.8 527.17L184.8 527.64L185.8 528.67L186.8 528.75L187.8 529.18L188.8 531.24L189.8 533.30L190.8 536.49L191.8 537.12L192.8 538.01L193.8 538.77L194.8 540.64L195.8 542.99L196.8 544.56L197.8 546.41L198.8 546.81L199.8 547.87L200.8 547.98L201.8 548.94L202.8 549.90L203.8 550.39L204.8 551.10L205.8 551.40L206.8 551.39L207.8 551.11L208.8 550.97L209.8 551.46L210.8 551.91L211.8 551.16L212.8 551.26L213.8 550.99L214.8 551.14L215.8 549.97L216.8 549.34L217.8 548.91L218.8 549.32L219.8 549.04L220.8 549.18L221.8 548.46L222.8 548.40L223.8 546.45L224.8 545.17L225.8 543.75L226.8 543.06L227.8 542.82L228.8 541.40L229.8 541.48L230.8 540.92L231.8 541.28L232.8 541.46L233.8 541.93L234.8 542.39L235.8 544.02L236.8 545.26L237.8 546.21L238.8 546.80L239.8 548.15L240.8 549.90L241.8 550.99L242.8 550.93L243.8 551.31L244.8 551.45L245.8 552.09L246.8 552.11L247.8 551.02L248.8 551.20L249.8 552.18L250.8 553.25L251.8 554.17L252.8 554.65L253.8 556.32L254.8 557.60L255.8 557.10L256.8 557.05L257.8 556.89L258.8 557.13L259.8 557.18L260.8 557.62L261.8 558.65L262.8 559.05L263.8 557.80L264.8 557.65L265.8 557.92L266.8 558.96L267.8 559.10L268.8 560.00L269.8 559.93L270.8 559.47L271.8 558.33L272.8 558.13L273.8 558.23L274.8 558.06L275.8 558.43L276.8 558.62L277.8 558.23L278.8 557.92L279.8 558.01L280.8 558.26L281.8 558.70L282.8 558.73L283.8 558.31L284.8 557.64L285.8 557.58L286.8 557.93L287.8 557.29L288.8 556.45L289.8 555.32L290.8 554.58L291.8 554.25L292.8 554.37L293.8 554.87L294.8 554.48L295.8 554.29L296.8 553.69L297.8 553.53L298.8 553.31L299.8 553.01L300.8 552.62L301.8 551.19L302.8 550.39L303.8 550.06L304.8 550.73L305.8 550.56L306.8 549.48L307.8 547.87L308.8 547.34L309.8 547.08L310.8 546.47L311.8 546.04L312.8 545.46L313.8 545.59L314.8 544.49L315.8 544.05L316.8 543.05L317.8 543.79L318.8 543.66L319.8 543.86L320.8 543.94L321.8 544.46L322.8 544.84L323.8 545.35L324.8 544.84L325.8 545.43L326.8 545.43L327.8 545.40L328.8 546.09L329.8 546.15L330.8 547.43L331.8 547.29L332.8 548.05L333.8 548.34L334.8 549.06L335.8 549.59L336.8 550.56L337.8 552.44L338.8 552.95L339.8 553.51L340.8 552.82L341.8 553.10L342.8 553.39L343.8 553.57L344.8 553.35L345.8 553.10L346.8 553.35L347.8 554.44L348.8 555.53L349.8 555.87L350.8 555.20L351.8 555.97L352.8 556.74L353.8 557.78L354.8 557.38L355.8 557.09L356.8 556.85L357.8 556.80L358.8 557.07L359.8 557.36L360.8 557.13L361.8 557.24L362.8 557.80L363.8 558.26L364.8 558.51L365.8 557.73L366.8 557.97L367.8 558.06L368.8 558.49L369.8 558.10L370.8 558.41L371.8 558.68L372.8 559.56L373.8 559.39L374.8 559.98L375.8 559.78L376.8 559.48L377.8 559.29L378.8 559.33L379.8 560.08L380.8 559.96L381.8 559.92L382.8 559.97L383.8 560.50L384.8 560.86L385.8 560.88L386.8 560.59L387.8 560.54L388.8 560.43L389.8 560.36L390.8 560.05L391.8 559.74L392.8 560.36L393.8 560.27L394.8 560.08L395.8 559.06L396.8 558.98L397.8 559.08L398.8 558.75L399.8 558.03L400.8 557.99L401.8 557.77L402.8 558.48L403.8 558.37L404.8 559.26L405.8 559.68L406.8 559.70L407.8 559.06L408.8 558.03L409.8 557.57L410.8 557.71L411.8 557.34L412.8 557.58L413.8 557.50L414.8 558.37L415.8 558.16L416.8 558.13L417.8 557.59L418.8 557.48L419.8 556.77L420.8 556.99L421.8 557.61L422.8 558.20L423.8 558.21L424.8 557.27L425.8 557.62L426.8 557.16L427.8 557.69L428.8 557.15L429.8 557.00L430.8 556.99L431.8 556.85L432.8 557.12L433.8 556.79L434.8 556.64L435.8 556.30L436.8 556.15L437.8 555.87L438.8 555.86L439.8 555.32L440.8 554.80L441.8 554.40L442.8 554.33L443.8 554.72L444.8 555.24L445.8 554.73L446.8 554.69L447.8 553.47L448.8 553.65L449.8 553.41L450.8 553.40L451.8 553.16L452.8 553.45L453.8 554.33L454.8 555.02L455.8 554.81L456.8 555.65L457.8 555.77L458.8 555.90L459.8 555.89L460.8 556.31L461.8 556.63L462.8 556.63L463.8 556.71L464.8 557.34L465.8 557.32L466.8 557.25L467.8 557.71L468.8 558.03L469.8 558.37L470.8 558.08L471.8 558.61L472.8 559.03L473.8 559.45L474.8 559.41L475.8 559.55L476.8 558.87L477.8 558.66L478.8 558.70L479.8 559.30L480.8 559.46L481.8 559.18L482.8 558.24L483.8 558.23L484.8 558.22L485.8 558.23L486.8 558.22L487.8 558.24L488.8 558.23L489.8 558.21L490.8 558.18L491.8 558.16L492.8 558.15L493.8 558.17L494.8 558.15L495.8 558.16L496.8 558.16L497.8 558.14L498.8 558.12L499.8 558.12L500.8 558.12L501.8 558.10L502.8 558.07L503.8 558.07L504.8 558.08L505.8 558.11L506.8 558.15L507.8 558.16L508.8 558.16L509.8 558.14L510.8 558.14L511.8 558.12L512.8 558.11L513.8 558.09L514.8 558.09L515.8 558.07L516.8 558.05L517.8 558.05L518.8 558.03L519.8 558.05L520.8 558.05L521.8 558.08L522.8 558.07L523.8 558.08L524.8 558.07L525.8 558.06L526.8 558.02L527.8 557.99L528.8 557.96L529.8 558.01L530.8 558.02L531.8 558.06L532.8 558.05L533.8 558.08L534.8 558.10L535.8 558.10L536.8 558.12L537.8 558.14L538.8 558.11L539.8 558.08L540.8 558.05L541.8 558.03L542.8 558.02L543.8 557.99L544.8 558.03L545.8 558.04L546.8 558.06L547.8 558.01L548.8 558.02L549.8 558.01L550.8 558.02L551.8 557.99L552.8 557.97L553.8 557.96L554.8 557.98L555.8 558.04L556.8 558.07L557.8 558.09L558.8 558.06L559.8 558.04L560.8 557.98L561.8 557.97L562.8 557.93L563.8 557.94L564.8 557.97L565.8 558.01L566.8 558.03L567.8 557.99L568.8 557.95L569.8 557.92L570.8 557.92L571.8 557.96L572.8 557.99L573.8 557.98L574.8 557.95L575.8 557.91L576.8 557.91L577.8 557.89L578.8 557.88L579.8 557.89L580.8 557.91L581.8 557.88L582.8 557.87L583.8 557.83L584.8 557.86L585.8 557.84L586.8 557.85L587.8 557.82L588.8 557.83L589.8 557.81L590.8 557.78L591.8 557.81L592.8 557.83L593.8 557.85L594.8 557.85L595.8 557.84L596.8 557.84L597.8 557.80L598.8 557.81L599.8 557.81L600.8 557.80L601.8 557.77L602.8 557.76L603.8 557.77L604.8 557.73L605.8 557.72L606.8 557.69L607.8 557.71L608.8 557.67L609.8 557.69L610.8 557.67L611.8 557.70L612.8 557.67L613.8 557.65L614.8 557.64L615.8 557.61L616.8 557.62L617.8 557.62L618.8 557.64L619.8 557.66L620.8 557.65L621.8 557.69L622.8 557.69L623.8 557.67L624.8 557.62L625.8 557.59L626.8 557.61L627.8 557.60L628.8 557.60L629.8 557.62L630.8 557.63L631.8 557.64L632.8 557.60L633.8 557.60L634.8 557.62L635.8 557.64L636.8 557.66L637.8 557.58L638.8 557.57L639.8 557.57L640.8 557.66L641.8 557.65L642.8 557.60L643.8 557.58L644.8 557.57L645.8 557.57L646.8 557.55L647.8 557.57L648.8 557.62L649.8 557.65L650.8 557.61L651.8 557.63L652.8 557.60L653.8 557.61L654.8 557.54L655.8 557.59L656.8 557.60L657.8 557.63L658.8 557.61L659.8 557.60L660.8 557.59L661.8 557.56L662.8 557.57L663.8 557.59L664.8 557.61L665.8 557.59L666.8 557.58L667.8 557.61L668.8 557.62L669.8 557.62L670.8 557.58L671.8 557.55L672.8 557.53L673.8 557.54L674.8 557.56L675.8 557.58L676.8 557.59L677.8 557.60L678.8 557.60L679.8 557.60L680.8 557.59L681.8 557.59L682.8 557.58L683.8 557.55L684.8 557.57L685.8 557.54L686.8 557.58L687.8 557.56L688.8 557.60L689.8 557.59L690.8 557.57L691.8 557.57L692.8 557.57L693.8 557.59L694.8 557.57L695.8 557.59L696.8 557.60L697.8 557.60L698.8 557.56L699.8 557.53L700.8 557.53L701.8 557.59L702.8 557.60L703.8 557.60L704.8 557.59L705.8 557.58L706.8 557.58L707.8 557.56L708.8 557.54L709.8 557.55L710.8 557.56L711.8 557.58L712.8 557.54L713.8 557.54L714.8 557.56L715.8 557.57L716.8 557.55L717.8 557.53L718.8 557.52L719.8 557.49L720.8 557.48L721.8 557.49L722.8 557.53L723.8 557.53L724.8 557.54L725.8 557.54L726.8 557.54L727.8 557.53L728.8 557.54L729.8 557.57L730.8 557.59L731.8 557.59L732.8 557.52L733.8 557.48L734.8 557.47L735.8 557.53L736.8 557.52L737.8 557.54L738.8 557.55L739.8 557.56L740.8 557.54L741.8 557.53L742.8 557.53L743.8 557.53L744.8 557.53L745.8 557.52L746.8 557.50L747.8 557.50L748.8 557.51L749.8 557.54L750.8 557.52L751.8 557.57L752.8 557.57L753.8 557.57L754.8 557.54L755.8 557.54L756.8 557.56L757.8 557.53L758.8 557.51L759.8 557.55L760.8 557.55L761.8 557.55L762.8 557.52L763.8 557.54L764.8 557.53L765.8 557.52L766.8 557.54L767.8 557.56L768.8 557.54L769.8 557.55L770.8 557.52L771.8 557.55L772.8 557.52L773.8 557.57L774.8 557.56L775.8 557.57L776.8 557.55L777.8 557.56L778.8 557.55L779.8 557.59L780.8 557.56L781.8 557.57L782.8 557.54L783.8 557.56L784.8 557.53L785.8 557.53L786.8 557.50L787.8 557.49L788.8 557.49L789.8 557.49L790.8 557.54L791.8 557.52L792.8 557.55L793.8 557.53L794.8 557.54L795.8 557.53L796.8 557.52L797.8 557.51L798.8 557.53L799.8 557.56L800.8 557.58L801.8 557.57L802.8 557.55L803.8 557.50L804.8 557.50L805.8 557.52L806.8 557.54L807.8 557.54L808.8 557.55L809.8 557.56L810.8 557.56L811.8 557.54L812.8 557.51L813.8 557.49L814.8 557.47L815.8 557.51L816.8 557.51L817.8 557.50L818.8 557.48L819.8 557.49L820.8 557.50L821.8 557.53L822.8 557.55L823.8 557.55L824.8 557.54L825.8 557.52L826.8 557.52L827.8 557.55L828.8 557.50L829.8 557.50L830.8 557.47L831.8 557.54L832.8 557.52L833.8 557.52L834.8 557.52L835.8 557.53L836.8 557.49L837.8 557.47L838.8 557.45L839.8 557.50L840.8 557.49L841.8 557.54L842.8 557.53L843.8 557.53L844.8 557.49L845.8 557.47L846.8 557.49L847.8 557.53L848.8 557.54L849.8 557.55L850.8 557.51L851.8 557.52L852.8 557.54L853.8 557.53L854.8 557.55L855.8 557.53L856.8 557.52L857.8 557.47L858.8 557.44L859.8 557.49L860.8 557.50L861.8 557.52L862.8 557.51L863.8 557.52L864.8 557.53L865.8 557.51L866.8 557.53L867.8 557.51L868.8 557.54L869.8 557.52L870.8 557.52L871.8 557.50L872.8 557.51L873.8 557.49L874.8 557.49L875.8 557.45L876.8 557.47L877.8 557.48L878.8 557.49L879.8 557.51L880.8 557.49L881.8 557.54L882.8 557.53L883.8 557.52L884.8 557.47L885.8 557.45L886.8 557.47L887.8 557.49L888.8 557.52L889.8 557.53L890.8 557.53L891.8 557.52L892.8 557.51L893.8 557.51L894.8 557.52L895.8 557.54L896.8 557.52L897.8 557.48L898.8 557.45L899.8 557.47L900.8 557.45L901.8 557.46L902.8 557.46L903.8 557.49L904.8 557.48L905.8 557.51L906.8 557.54L907.8 557.55L908.8 557.55L909.8 557.54L910.8 557.53L911.8 557.55L912.8 557.51L913.8 557.53L914.8 557.46L915.8 557.48L916.8 557.46L917.8 557.48L918.8 557.50L919.8 557.53L920.8 557.52L921.8 557.53L922.8 557.51L923.8 557.53L924.8 557.50L925.8 557.52L926.8 557.50L927.8 557.51L928.8 557.50L929.8 557.49L930.8 557.48L931.8 557.49L932.8 557.50L933.8 557.49L934.8 557.47L935.8 557.46L936.8 557.48L937.8 557.49L938.8 557.51" fill="none" stroke="#00c4c8" stroke-width="4.4" stroke-linejoin="round" stroke-linecap="butt"/>
<g stroke="#000" stroke-width="2.4" fill="none">
<path d="M58.0 2.0 H939.4 V569.0" stroke-linecap="square"/>
<path d="M58.0 2.0V13.0M146.1 2.0V7.2M234.3 2.0V13.0M322.4 2.0V7.2M410.6 2.0V13.0M498.7 2.0V7.2M586.8 2.0V13.0M675.0 2.0V7.2M763.1 2.0V13.0M851.3 2.0V7.2M939.4 2.0V13.0M939.4 58.6H933.0M939.4 115.3H926.6M939.4 171.9H933.0M939.4 228.6H926.6M939.4 285.2H933.0M939.4 341.9H926.6M939.4 398.6H933.0M939.4 455.2H926.6M939.4 511.8H933.0" stroke-linecap="butt" stroke-width="2.2"/>
<path d="M57.9 1V12.8M939.3 1V12.8" stroke-linecap="butt" stroke-width="3.4"/>
</g>
<text transform="translate(115.6 606.2) scale(1.140 1)" font-size="24.4" text-anchor="middle">200</text>
<text transform="translate(280.4 606.2) scale(1.140 1)" font-size="24.4" text-anchor="middle">400</text>
<text transform="translate(445.1 606.2) scale(1.140 1)" font-size="24.4" text-anchor="middle">600</text>
<text transform="translate(609.9 606.2) scale(1.140 1)" font-size="24.4" text-anchor="middle">800</text>
<text transform="translate(774.7 606.2) scale(1.140 1)" font-size="24.4" text-anchor="middle"> 000</text>
<path d="M478 0L478 1170L140 959L140 1180L493 1409L759 1409L759 0Z" transform="translate(774.7 606.2) scale(1.140 1) translate(-27.140 0.000) scale(0.01191 -0.01191)" fill="#000" stroke="#000" stroke-width="42.0"/>
<text transform="translate(939.5 606.2) scale(1.140 1)" font-size="24.4" text-anchor="middle"> 200</text>
<path d="M478 0L478 1170L140 959L140 1180L493 1409L759 1409L759 0Z" transform="translate(939.5 606.2) scale(1.140 1) translate(-27.140 0.000) scale(0.01191 -0.01191)" fill="#000" stroke="#000" stroke-width="42.0"/>
<text transform="translate(350.8 656.6) scale(1.11 1)" font-size="30.3">wavenumber(cm<tspan font-size="20.5" dy="-12.5">- </tspan><tspan dy="12.5">)</tspan></text>
<path d="M478 0L478 1170L140 959L140 1180L493 1409L759 1409L759 0Z" transform="translate(350.8 656.6) scale(1.11 1) translate(245.942 -12.500) scale(0.01001 -0.01001)" fill="#000" stroke="#000" stroke-width="50.0"/>
<text transform="translate(24.6 390) scale(1.15 1) rotate(-90)" font-size="29.2">Intensity (a.u)</text>
<path d="M478 0L478 1170L140 959L140 1180L493 1409L759 1409L759 0Z" transform="translate(938.5 169.7) scale(1.115 1) translate(-81.428 0.000) scale(0.01196 -0.01196)" fill="#000" stroke="#000" stroke-width="41.8"/>
<text transform="translate(938.5 169.7) scale(1.115 1)" font-size="24.5" text-anchor="end"> 000<tspan font-size="16.6" dy="-9.8">0</tspan><tspan dy="9.8">C</tspan></text>
<text transform="translate(938.5 221.5) scale(1.115 1)" font-size="24.5" text-anchor="end">900<tspan font-size="16.6" dy="-9.8">0</tspan><tspan dy="9.8">C</tspan></text>
<text transform="translate(938.5 264.2) scale(1.115 1)" font-size="24.5" text-anchor="end">800<tspan font-size="16.6" dy="-9.8">0</tspan><tspan dy="9.8">C</tspan></text>
<text transform="translate(938.5 306.5) scale(1.115 1)" font-size="24.5" text-anchor="end">700<tspan font-size="16.6" dy="-9.8">0</tspan><tspan dy="9.8">C</tspan></text>
<text transform="translate(934.0 345.7) scale(1.115 1)" font-size="24.5" text-anchor="end">600<tspan font-size="16.6" dy="-9.8">0</tspan><tspan dy="9.8">C</tspan></text>
<text transform="translate(933.0 451.0) scale(1.115 1)" font-size="24.5" text-anchor="end">500<tspan font-size="16.6" dy="-9.8">0</tspan><tspan dy="9.8">C</tspan></text>
<text transform="translate(933 547.3) scale(1.14 1)" font-size="24.5" text-anchor="end">No annealed</text>
<path d="M452.6 38.5L459.2 45.6L452.6 52.7L446.0 45.6Z" fill="#000"/>
<text transform="translate(462.6 51.7) scale(1.06 1)" font-size="21.9">La<tspan font-size="13" dy="4.5">2</tspan><tspan dy="-4.5">O</tspan><tspan font-size="13" dy="4.5">3</tspan></text>
<path d="M553.4 39.1H567.6L560.5 51.8Z" fill="none" stroke="#000" stroke-width="2.2" stroke-linejoin="miter"/>
<text transform="translate(576 51.7) scale(1.1 1)" font-size="21.9">La(OH)<tspan font-size="13" dy="4.5">3</tspan></text>
<text transform="translate(690 51.7) scale(1.06 1)" font-size="21.9">La<tspan font-size="13" dy="4.5">2</tspan><tspan dy="-4.5">O</tspan><tspan font-size="13" dy="4.5">2</tspan><tspan dy="-4.5">CO</tspan><tspan font-size="13" dy="4.5">3</tspan></text>
<path d="M478 0L478 1170L140 959L140 1180L493 1409L759 1409L759 0Z" transform="translate(110.4 99.5) scale(1.20 1) rotate(-90) translate(0.000 0.000) scale(0.01025 -0.01025)" fill="#000" stroke="#000" stroke-width="48.8"/>
<text transform="translate(110.4 99.5) scale(1.20 1) rotate(-90)" font-size="21.0"> 89</text>
<path d="M100.8 108.2L107.2 115.0L100.8 121.8L94.4 115.0Z" fill="#000"/>
<path d="M103.1 129.2L105.8 161.2" stroke="#000" stroke-width="2.2"/>
<text transform="translate(297.3 39.8) scale(1.20 1) rotate(-90)" font-size="21.0">405</text>
<path d="M290.5 42.4L296.9 49.2L290.5 56.0L284.1 49.2Z" fill="#000"/>
<path d="M285.8 59.0L288.1 77.6" stroke="#000" stroke-width="2.2"/>
<path d="M285.8 190.5L292.2 197.3L285.8 204.1L279.4 197.3Z" fill="#000"/>
<path d="M110.4 236.1L116.8 242.9L110.4 249.7L104.0 242.9Z" fill="#000"/>
<path d="M184.0 231.9L190.4 238.7L184.0 245.5L177.6 238.7Z" fill="#000"/>
<path d="M229.9 236.1L236.3 242.9L229.9 249.7L223.5 242.9Z" fill="#000"/>
<text transform="translate(245.8 378.5) scale(1.20 1) rotate(-90)" font-size="21.0">340</text>
<path d="M226.7 385.1H240.9L233.8 397.8Z" fill="none" stroke="#000" stroke-width="2.2" stroke-linejoin="miter"/>
<path d="M232.7 409.3L234.6 427.8" stroke="#000" stroke-width="2.2"/>
<text transform="translate(299.2 378.1) scale(1.20 1) rotate(-90)" font-size="21.0">405</text>
<path d="M284.5 386.2L290.7 392.8L284.5 399.4L278.3 392.8Z" fill="#000"/>
<path d="M286.2 403.3L288.3 421.4" stroke="#000" stroke-width="2.2"/>
<text transform="translate(341.4 390.8) scale(1.20 1) rotate(-90)" font-size="21.0">450</text>
<path d="M322.7 397.7H336.9L329.8 410.4Z" fill="none" stroke="#000" stroke-width="2.2" stroke-linejoin="miter"/>
<path d="M330.2 415.1L332.3 433.2" stroke="#000" stroke-width="2.2"/>
<path d="M478 0L478 1170L140 959L140 1180L493 1409L759 1409L759 0Z" transform="translate(838.4 398.0) scale(1.22 1) rotate(-90) translate(0.000 0.000) scale(0.01025 -0.01025)" fill="#000" stroke="#000" stroke-width="48.8"/>
<text transform="translate(838.4 398.0) scale(1.22 1) rotate(-90)" font-size="21.0"> 057</text>
<text transform="translate(842.7 415.0) scale(1.20 1) rotate(-90)" font-size="26.5">*</text>
<path d="M822.3 418.9L824.8 437.1" stroke="#000" stroke-width="2.2"/>
<text transform="translate(199.9 481.2) scale(1.20 1) rotate(-90)" font-size="21.0">280</text>
<path d="M179.4 485.1H193.6L186.5 497.8Z" fill="none" stroke="#000" stroke-width="2.2" stroke-linejoin="miter"/>
<path d="M185.6 503.2L187.4 521.5" stroke="#000" stroke-width="2.2"/>
<text transform="translate(241.3 486.6) scale(1.20 1) rotate(-90)" font-size="21.0">340</text>
<path d="M223.4 491.2H237.6L230.5 503.9Z" fill="none" stroke="#000" stroke-width="2.2" stroke-linejoin="miter"/>
<path d="M227.6 513.1L230.1 531.7" stroke="#000" stroke-width="2.2"/>
<text transform="translate(326.0 496.2) scale(1.20 1) rotate(-90)" font-size="21.0">450</text>
<path d="M305.1 500.3H319.3L312.2 513.0Z" fill="none" stroke="#000" stroke-width="2.2" stroke-linejoin="miter"/>
<path d="M316.1 518.2L318.1 537.2" stroke="#000" stroke-width="2.2"/>
</svg></body></html>
